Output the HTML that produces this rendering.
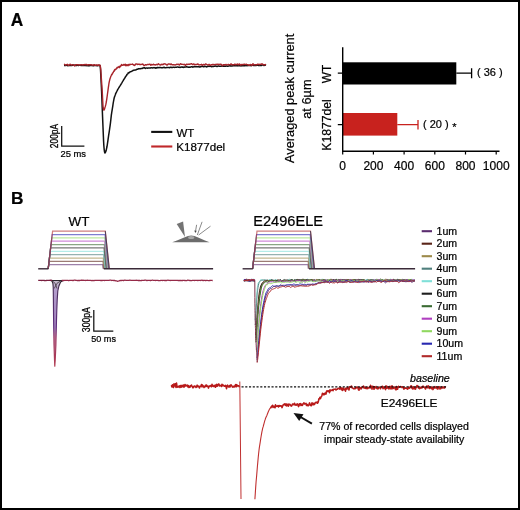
<!DOCTYPE html>
<html><head><meta charset="utf-8"><style>
html,body{margin:0;padding:0;background:#fff;}
#f{position:relative;width:520px;height:510px;box-sizing:border-box;border:2px solid #000;background:#fff;overflow:hidden;}
svg{position:absolute;left:-2px;top:-2px;will-change:transform;}
text{font-family:"Liberation Sans",sans-serif;stroke:#000;stroke-width:0.22px;paint-order:stroke;}

</style></head><body><div id="f">
<svg width="520" height="510" viewBox="0 0 520 510" font-family="Liberation Sans, sans-serif">
<text transform="translate(10.7,25.5) scale(1.0,1.06)" font-size="17.3" text-anchor="start" font-weight="bold" font-style="normal" fill="#000" >A</text>
<text transform="translate(10.9,204.3)" font-size="17.3" text-anchor="start" font-weight="bold" font-style="normal" fill="#000" >B</text>
<polyline points="64.0,65.5 64.5,65.5 65.0,65.5 65.5,65.4 66.0,65.3 66.5,65.3 67.0,65.4 67.5,65.7 68.0,65.6 68.5,65.4 69.0,65.5 69.5,65.6 70.0,65.6 70.5,65.4 71.0,65.4 71.5,65.6 72.0,65.4 72.5,65.3 73.0,65.2 73.5,65.1 74.0,65.1 74.5,65.2 75.0,65.3 75.5,65.4 76.0,65.6 76.5,65.5 77.0,65.2 77.5,65.1 78.0,65.4 78.5,65.5 79.0,65.3 79.5,65.3 80.0,65.3 80.5,65.3 81.0,65.5 81.5,65.5 82.0,65.4 82.5,65.6 83.0,65.6 83.5,65.4 84.0,65.5 84.5,65.5 85.0,65.4 85.5,65.4 86.0,65.7 86.5,65.5 87.0,65.4 87.5,65.7 88.0,65.5 88.5,65.7 89.0,65.9 89.5,65.5 90.0,65.4 90.5,65.6 91.0,65.6 91.5,65.6 92.0,65.6 92.5,65.6 93.0,65.8 93.5,65.7 94.0,65.5 94.5,65.5 95.0,65.5 95.5,65.4 96.0,65.4 96.5,65.5 97.0,65.7 97.5,65.8 98.0,65.6 98.5,65.3 99.0,65.6 99.5,65.6 100.0,65.5 100.2,66.3 100.4,68.4 100.6,71.4 100.8,75.1 101.0,79.0 101.2,83.1 101.4,87.0 101.6,91.5 101.8,96.5 102.0,101.8 102.2,107.2 102.4,112.5 102.6,117.4 102.8,122.4 103.0,127.3 103.2,132.0 103.4,136.8 103.6,141.4 103.8,145.0 104.0,147.5 104.2,149.6 104.4,151.0 104.6,152.1 104.8,152.9 105.0,152.9 105.2,152.7 105.4,152.3 105.6,151.9 105.8,151.5 106.0,150.9 106.2,150.3 106.4,149.4 106.6,148.4 106.8,147.5 107.0,146.5 107.2,145.3 107.4,144.0 107.6,142.7 107.8,141.3 108.0,139.8 108.2,138.4 108.4,137.1 108.6,135.7 108.8,134.4 109.0,133.1 109.2,131.8 109.4,130.5 109.6,129.1 109.8,127.7 110.0,126.3 110.2,124.8 110.4,123.3 110.6,121.7 110.8,120.0 111.0,118.1 111.2,116.4 111.4,114.7 111.6,113.3 111.8,112.0 112.0,110.8 112.2,109.6 112.4,108.4 112.6,107.2 112.8,105.9 113.0,104.5 113.2,103.2 113.4,102.0 113.6,100.8 113.8,99.8 114.0,98.8 114.2,98.0 114.4,97.3 114.6,96.6 114.8,96.1 115.0,95.5 115.2,95.0 115.4,94.4 115.6,93.9 115.8,93.4 116.0,93.0 116.2,92.6 116.4,92.2 116.6,91.8 116.8,91.3 117.0,90.9 117.2,90.6 117.4,90.2 117.6,89.8 117.8,89.4 118.0,89.1 118.2,88.7 118.4,88.4 118.6,88.1 118.8,87.7 119.0,87.4 119.2,87.2 119.4,86.8 119.6,86.5 119.8,86.2 120.0,85.9 120.2,85.6 120.4,85.3 120.6,84.9 120.8,84.6 121.0,84.3 121.2,84.0 121.4,83.6 121.6,83.3 121.8,82.9 122.0,82.6 122.2,82.2 122.4,81.9 122.6,81.5 122.8,81.2 123.0,80.9 123.2,80.6 123.4,80.2 123.6,79.8 123.8,79.5 124.0,79.3 124.2,78.9 124.4,78.6 124.6,78.3 124.8,78.0 125.0,77.8 125.2,77.3 125.4,77.0 125.6,76.6 125.8,76.2 126.0,76.1 126.2,75.8 126.4,75.7 126.6,75.5 126.8,74.8 127.0,74.2 127.2,74.2 127.4,74.1 127.6,73.8 127.8,73.8 128.0,73.4 128.2,72.9 128.4,73.0 128.6,73.1 128.8,72.9 129.0,72.8 129.2,72.6 129.4,72.2 129.6,72.2 129.8,72.1 130.0,71.8 130.5,71.7 131.0,71.7 131.5,71.4 132.0,71.1 132.5,70.8 133.0,70.5 133.5,70.3 134.0,70.3 134.5,70.1 135.0,69.9 135.5,69.9 136.0,69.9 136.5,69.5 137.0,69.3 137.5,69.3 138.0,69.0 138.5,68.8 139.0,68.6 139.5,68.8 140.0,68.8 140.5,68.7 141.0,68.6 141.5,68.6 142.0,68.6 142.5,68.2 143.0,68.0 143.5,68.0 144.0,67.6 144.5,67.8 145.0,68.3 145.5,68.4 146.0,68.0 146.5,67.9 147.0,68.1 147.5,68.2 148.0,68.1 148.5,68.0 149.0,68.0 149.5,68.1 150.0,68.1 150.5,68.0 151.0,67.8 151.5,67.8 152.0,67.8 152.5,67.9 153.0,67.8 153.5,67.6 154.0,67.8 154.5,67.6 155.0,67.8 155.5,68.2 156.0,67.9 156.5,67.8 157.0,67.9 157.5,67.4 158.0,67.4 158.5,67.7 159.0,67.7 159.5,67.5 160.0,67.5 160.5,67.6 161.0,67.7 161.5,67.8 162.0,67.6 162.5,67.8 163.0,67.7 163.5,67.4 164.0,67.3 164.5,67.5 165.0,67.8 165.5,67.7 166.0,67.7 166.5,67.6 167.0,67.5 167.5,67.5 168.0,67.4 168.5,67.4 169.0,67.6 169.5,67.7 170.0,67.5 170.5,67.3 171.0,67.2 171.5,67.5 172.0,67.6 172.5,67.4 173.0,67.3 173.5,67.2 174.0,67.2 174.5,67.4 175.0,67.4 175.5,67.2 176.0,67.2 176.5,67.3 177.0,67.1 177.5,67.0 178.0,67.1 178.5,67.2 179.0,67.2 179.5,67.2 180.0,67.5 180.5,67.3 181.0,67.1 181.5,67.1 182.0,67.2 182.5,67.0 183.0,67.1 183.5,67.4 184.0,67.3 184.5,67.0 185.0,66.9 185.5,67.0 186.0,66.9 186.5,66.7 187.0,67.0 187.5,67.1 188.0,67.0 188.5,67.3 189.0,67.2 189.5,67.1 190.0,67.3 190.5,67.1 191.0,66.8 191.5,66.7 192.0,66.7 192.5,67.1 193.0,67.2 193.5,66.9 194.0,66.6 194.5,66.7 195.0,66.8 195.5,66.8 196.0,66.8 196.5,66.8 197.0,66.8 197.5,66.7 198.0,66.8 198.5,66.7 199.0,66.8 199.5,67.0 200.0,67.0 200.5,66.8 201.0,66.5 201.5,66.5 202.0,66.4 202.5,66.2 203.0,66.5 203.5,66.8 204.0,66.7 204.5,66.3 205.0,66.3 205.5,66.4 206.0,66.5 206.5,66.9 207.0,66.8 207.5,66.4 208.0,66.2 208.5,66.3 209.0,66.4 209.5,66.3 210.0,66.3 210.5,66.3 211.0,66.4 211.5,66.7 212.0,66.7 212.5,66.4 213.0,66.4 213.5,66.4 214.0,66.3 214.5,66.2 215.0,66.1 215.5,66.0 216.0,66.2 216.5,66.4 217.0,66.3 217.5,66.4 218.0,66.2 218.5,65.9 219.0,66.1 219.5,66.3 220.0,66.2 220.5,66.3 221.0,66.3 221.5,66.0 222.0,65.9 222.5,66.1 223.0,66.3 223.5,65.9 224.0,66.0 224.5,66.3 225.0,66.3 225.5,66.2 226.0,66.0 226.5,65.9 227.0,66.2 227.5,66.3 228.0,66.2 228.5,66.1 229.0,65.9 229.5,65.8 230.0,65.7 230.5,66.0 231.0,65.9 231.5,65.9 232.0,66.1 232.5,65.8 233.0,65.7 233.5,65.8 234.0,65.8 234.5,65.8 235.0,65.7 235.5,65.7 236.0,65.7 236.5,65.6 237.0,65.7 237.5,65.9 238.0,65.7 238.5,65.6 239.0,65.7 239.5,65.6 240.0,65.8 240.5,65.8 241.0,65.9 241.5,65.8 242.0,65.7 242.5,65.7 243.0,65.6 243.5,65.7 244.0,65.8 244.5,65.7 245.0,65.7 245.5,65.5 246.0,65.5 246.5,65.6 247.0,65.8 247.5,65.6 248.0,65.5 248.5,65.4 249.0,65.5 249.5,65.5 250.0,65.2 250.5,65.3 251.0,65.7 251.5,65.5 252.0,65.2 252.5,65.3 253.0,65.3 253.5,65.4 254.0,65.5 254.5,65.3 255.0,65.5 255.5,65.5 256.0,65.4 256.5,65.4 257.0,65.2 257.5,65.1 258.0,65.4 258.5,65.6 259.0,65.4 259.5,65.4 260.0,65.4 260.5,65.4 261.0,65.6 261.5,65.5 262.0,65.0 262.5,65.0 263.0,65.1 263.5,65.3 264.0,65.5 264.5,65.3 265.0,65.0 265.5,65.1 266.0,65.4" fill="none" stroke="#111" stroke-width="1.5" stroke-linejoin="round" />
<polyline points="64.0,64.2 64.5,64.4 65.0,64.8 65.5,65.0 66.0,65.0 66.5,64.6 67.0,64.5 67.5,64.3 68.0,65.1 68.5,65.6 69.0,65.1 69.5,64.7 70.0,64.2 70.5,64.4 71.0,64.9 71.5,65.0 72.0,65.0 72.5,64.7 73.0,64.7 73.5,65.0 74.0,65.3 74.5,65.9 75.0,65.5 75.5,64.8 76.0,64.8 76.5,64.8 77.0,64.6 77.5,64.8 78.0,64.7 78.5,64.9 79.0,65.1 79.5,65.0 80.0,65.0 80.5,64.8 81.0,64.6 81.5,64.7 82.0,64.8 82.5,64.9 83.0,65.1 83.5,64.6 84.0,64.7 84.5,64.7 85.0,64.5 85.5,64.8 86.0,64.4 86.5,64.5 87.0,65.1 87.5,65.0 88.0,64.9 88.5,64.8 89.0,64.7 89.5,64.7 90.0,64.8 90.5,64.9 91.0,64.7 91.5,64.8 92.0,65.2 92.5,65.1 93.0,64.9 93.5,65.1 94.0,64.8 94.5,64.7 95.0,65.3 95.5,65.2 96.0,65.3 96.5,65.0 97.0,64.8 97.5,65.2 98.0,65.4 98.5,65.3 99.0,64.7 99.5,65.1 100.0,65.1 100.2,65.6 100.4,66.6 100.6,68.0 100.8,70.1 101.0,73.2 101.2,76.1 101.4,79.0 101.6,81.8 101.8,84.7 102.0,87.7 102.2,90.8 102.4,94.2 102.6,98.2 102.8,102.5 103.0,106.0 103.2,108.0 103.4,109.0 103.6,109.7 103.8,110.1 104.0,110.1 104.2,109.8 104.4,109.3 104.6,108.7 104.8,108.0 105.0,107.4 105.2,106.8 105.4,106.1 105.6,105.3 105.8,104.5 106.0,103.6 106.2,102.6 106.4,101.5 106.6,100.1 106.8,98.8 107.0,97.4 107.2,96.0 107.4,94.5 107.6,93.0 107.8,91.7 108.0,90.2 108.2,88.7 108.4,87.2 108.6,85.8 108.8,84.5 109.0,83.2 109.2,82.1 109.4,81.2 109.6,80.3 109.8,79.5 110.0,78.8 110.2,78.2 110.4,77.6 110.6,77.0 110.8,76.5 111.0,76.0 111.2,75.6 111.4,75.1 111.6,74.7 111.8,74.4 112.0,74.7 112.2,74.1 112.4,73.2 112.6,73.0 112.8,73.1 113.0,72.7 113.2,72.5 113.4,71.9 113.6,71.2 113.8,71.2 114.0,71.2 114.2,71.3 114.4,70.4 114.6,69.7 114.8,70.0 115.0,69.8 115.2,69.1 115.4,69.4 115.6,69.7 115.8,69.4 116.0,68.9 116.2,68.9 116.4,68.7 116.6,68.6 116.8,68.2 117.0,67.5 117.2,67.7 117.4,67.6 117.6,67.6 117.8,67.7 118.0,67.1 118.2,66.9 118.4,67.0 118.6,67.1 118.8,66.9 119.0,66.4 119.2,66.8 119.4,67.5 119.6,67.6 119.8,66.9 120.0,66.3 120.2,66.6 120.4,66.4 120.6,65.6 120.8,65.6 121.0,65.9 121.2,65.5 121.4,64.8 121.6,64.6 121.8,65.2 122.0,65.3 122.2,65.0 122.4,65.2 122.6,65.3 122.8,65.1 123.0,65.1 123.2,64.9 123.4,64.6 123.6,64.5 123.8,64.9 124.0,65.2 124.2,64.7 124.4,64.6 124.6,64.7 124.8,65.0 125.0,64.6 125.2,64.1 125.4,64.5 125.6,65.4 125.8,65.8 126.0,65.1 126.2,65.0 126.4,65.6 126.6,65.3 126.8,64.6 127.0,65.0 127.2,65.3 127.4,65.1 127.6,64.8 127.8,65.2 128.0,65.8 128.2,65.4 128.4,65.1 128.6,64.4 128.8,64.4 129.0,64.9 129.2,64.8 129.4,65.0 129.6,64.8 129.8,64.2 130.0,64.3 130.5,64.6 131.0,64.4 131.5,64.4 132.0,64.4 132.5,63.9 133.0,64.4 133.5,65.1 134.0,65.0 134.5,65.5 135.0,65.2 135.5,64.1 136.0,63.9 136.5,64.0 137.0,64.1 137.5,64.5 138.0,64.1 138.5,64.1 139.0,64.3 139.5,64.3 140.0,64.7 140.5,64.5 141.0,64.5 141.5,64.4 142.0,64.3 142.5,64.0 143.0,64.1 143.5,65.1 144.0,65.6 144.5,65.5 145.0,65.1 145.5,64.6 146.0,64.8 146.5,65.0 147.0,64.6 147.5,64.5 148.0,64.5 148.5,64.5 149.0,64.4 149.5,64.3 150.0,64.2 150.5,65.1 151.0,65.2 151.5,64.5 152.0,64.7 152.5,64.9 153.0,64.5 153.5,64.2 154.0,64.8 154.5,64.9 155.0,64.7 155.5,65.0 156.0,64.8 156.5,64.4 157.0,64.4 157.5,64.8 158.0,64.4 158.5,63.8 159.0,64.2 159.5,64.6 160.0,64.9 160.5,65.1 161.0,64.5 161.5,64.3 162.0,64.7 162.5,64.3 163.0,64.5 163.5,64.5 164.0,63.7 164.5,63.9 165.0,64.0 165.5,64.0 166.0,64.5 166.5,64.7 167.0,65.1 167.5,64.9 168.0,64.1 168.5,63.9 169.0,64.1 169.5,64.0 170.0,64.3 170.5,64.5 171.0,63.8 171.5,64.2 172.0,64.7 172.5,64.6 173.0,64.7 173.5,64.7 174.0,64.7 174.5,64.9 175.0,65.0 175.5,64.8 176.0,64.8 176.5,64.3 177.0,64.1 177.5,64.4 178.0,64.5 178.5,64.2 179.0,64.6 179.5,65.0 180.0,64.2 180.5,63.7 181.0,64.0 181.5,64.4 182.0,64.3 182.5,64.4 183.0,64.4 183.5,64.5 184.0,64.5 184.5,64.3 185.0,64.8 185.5,65.5 186.0,65.0 186.5,64.1 187.0,64.2 187.5,64.5 188.0,64.4 188.5,64.1 189.0,64.4 189.5,64.3 190.0,64.0 190.5,64.1 191.0,63.8 191.5,63.6 192.0,64.0 192.5,64.5 193.0,64.5 193.5,64.0 194.0,63.9 194.5,64.6 195.0,64.9 195.5,64.7 196.0,64.3 196.5,64.5 197.0,64.5 197.5,64.0 198.0,64.0 198.5,64.7 199.0,65.0 199.5,64.9 200.0,64.7 200.5,64.6 201.0,64.6 201.5,64.3 202.0,65.2 202.5,65.4 203.0,64.6 203.5,64.4 204.0,64.6 204.5,64.9 205.0,64.7 205.5,63.9 206.0,64.0 206.5,64.4 207.0,64.6 207.5,64.9 208.0,65.0 208.5,64.8 209.0,64.4 209.5,64.5 210.0,65.3 210.5,65.3 211.0,64.8 211.5,64.6 212.0,65.0 212.5,64.7 213.0,64.2 213.5,64.6 214.0,64.8 214.5,64.6 215.0,64.5 215.5,64.5 216.0,64.5 216.5,64.5 217.0,64.2 217.5,64.2 218.0,64.7 218.5,64.5 219.0,64.2 219.5,64.6 220.0,64.4 220.5,64.3 221.0,64.3 221.5,64.5 222.0,65.5 222.5,65.7 223.0,65.0 223.5,64.7 224.0,64.7 224.5,64.6 225.0,65.0 225.5,64.6 226.0,64.4 226.5,64.8 227.0,64.9 227.5,64.9 228.0,64.4 228.5,64.4 229.0,64.8 229.5,64.7 230.0,64.6 230.5,64.5 231.0,63.8 231.5,64.2 232.0,64.9 232.5,64.7 233.0,64.6 233.5,64.8 234.0,64.7 234.5,64.2 235.0,64.3 235.5,64.8 236.0,64.4 236.5,64.4 237.0,64.7 237.5,64.0 238.0,64.5 238.5,64.8 239.0,64.1 239.5,64.0 240.0,64.7 240.5,65.1 241.0,64.7 241.5,64.5 242.0,64.8 242.5,64.5 243.0,64.4 243.5,64.6 244.0,64.3 244.5,64.2 245.0,64.4 245.5,64.5 246.0,64.4 246.5,64.2 247.0,64.7 247.5,64.9 248.0,64.8 248.5,65.1 249.0,65.0 249.5,65.3 250.0,64.9 250.5,64.5 251.0,64.6 251.5,64.9 252.0,65.5 252.5,64.4 253.0,63.7 253.5,64.4 254.0,64.9 254.5,64.9 255.0,64.7 255.5,64.6 256.0,64.8 256.5,64.7 257.0,64.8 257.5,64.2 258.0,64.1 258.5,64.4 259.0,64.5 259.5,64.7 260.0,64.2 260.5,64.4 261.0,64.4 261.5,64.0 262.0,63.8 262.5,64.1 263.0,64.6 263.5,64.9 264.0,64.7 264.5,64.7 265.0,64.8 265.5,64.5 266.0,64.6" fill="none" stroke="#a8242a" stroke-width="1.4" stroke-linejoin="round" />
<path d="M61.7,126 V146.2 H84.4" fill="none" stroke="#111" stroke-width="1.25"/>
<text transform="translate(60.5,157.3) scale(1.0,1.06)" font-size="9.4" text-anchor="start" font-weight="normal" font-style="normal" fill="#000" >25 ms</text>
<text transform="translate(57.5,148.2) rotate(-90) scale(1.0,1.3)" font-size="8.4" text-anchor="start" font-weight="normal" font-style="normal" fill="#000" >200pA</text>
<line x1="151.2" y1="131.9" x2="172.3" y2="131.9" stroke="#111" stroke-width="2.1"/>
<line x1="151.2" y1="146.5" x2="172.3" y2="146.5" stroke="#c0282a" stroke-width="2.1"/>
<text transform="translate(176.6,136.6)" font-size="11.4" text-anchor="start" font-weight="normal" font-style="normal" fill="#000" >WT</text>
<text transform="translate(176.2,151)" font-size="11.6" text-anchor="start" font-weight="normal" font-style="normal" fill="#000" >K1877del</text>
<rect x="342.7" y="62.3" width="113.6" height="22.2" fill="#000"/>
<rect x="342.7" y="113" width="54.6" height="22.6" fill="#c8221e"/>
<path d="M456.3,73.2 H471.6 M471.6,68.2 V78.3" stroke="#000" stroke-width="1.3" fill="none"/>
<path d="M397.3,124.7 H418 M418,120 V129.6" stroke="#c8221e" stroke-width="1.3" fill="none"/>
<path d="M342.7,47.3 V151.2 H499.5" stroke="#000" stroke-width="1.4" fill="none"/>
<path d="M342.7,151.2 V154.6 M373.4,151.2 V154.6 M404.1,151.2 V154.6 M434.8,151.2 V154.6 M465.5,151.2 V154.6 M496.2,151.2 V154.6  M337.8,73.2 H342.7 M337.8,124.7 H342.7" stroke="#000" stroke-width="1.2" fill="none"/>
<text transform="translate(342.7,170)" font-size="12" text-anchor="middle" font-weight="normal" font-style="normal" fill="#000" >0</text>
<text transform="translate(373.4,170)" font-size="12" text-anchor="middle" font-weight="normal" font-style="normal" fill="#000" >200</text>
<text transform="translate(404.1,170)" font-size="12" text-anchor="middle" font-weight="normal" font-style="normal" fill="#000" >400</text>
<text transform="translate(434.8,170)" font-size="12" text-anchor="middle" font-weight="normal" font-style="normal" fill="#000" >600</text>
<text transform="translate(465.5,170)" font-size="12" text-anchor="middle" font-weight="normal" font-style="normal" fill="#000" >800</text>
<text transform="translate(496.2,170)" font-size="12" text-anchor="middle" font-weight="normal" font-style="normal" fill="#000" >1000</text>
<text transform="translate(477,75.8)" font-size="11" text-anchor="start" font-weight="normal" font-style="normal" fill="#000" >( 36 )</text>
<text transform="translate(423,127.5)" font-size="11" text-anchor="start" font-weight="normal" font-style="normal" fill="#000" >( 20 )</text>
<text transform="translate(452.2,130.5)" font-size="11" text-anchor="start" font-weight="normal" font-style="normal" fill="#000" >*</text>
<text transform="translate(294,163) rotate(-90)" font-size="12.8" text-anchor="start" font-weight="normal" font-style="normal" fill="#000" >Averaged peak current</text>
<text transform="translate(311.3,118.8) rotate(-90)" font-size="12.8" text-anchor="start" font-weight="normal" font-style="normal" fill="#000" >at 6µm</text>
<text transform="translate(330.6,74) rotate(-90)" font-size="11.9" text-anchor="middle" font-weight="normal" font-style="normal" fill="#000" >WT</text>
<text transform="translate(330.8,125) rotate(-90)" font-size="12.2" text-anchor="middle" font-weight="normal" font-style="normal" fill="#000" >K1877del</text>
<polyline points="48.2,268.8 48.7,264.7 102.7,264.7 103.1,268.8" fill="none" stroke="#5b2c6f" stroke-width="1.25" opacity="0.6"/>
<polyline points="48.2,268.8 49.1,261.3 103.0,261.3 103.7,268.8" fill="none" stroke="#5a2418" stroke-width="1.25" opacity="0.6"/>
<polyline points="48.2,268.8 49.5,258.0 103.2,258.0 104.4,268.8" fill="none" stroke="#9c8a4a" stroke-width="1.25" opacity="0.6"/>
<polyline points="48.2,268.8 49.9,254.6 103.5,254.6 105.0,268.8" fill="none" stroke="#4f7f7d" stroke-width="1.25" opacity="0.6"/>
<polyline points="48.2,268.8 50.3,251.3 103.7,251.3 105.6,268.8" fill="none" stroke="#80e0d8" stroke-width="1.25" opacity="0.6"/>
<polyline points="48.2,268.8 50.6,247.9 104.0,247.9 106.2,268.8" fill="none" stroke="#1e1e1e" stroke-width="1.25" opacity="0.6"/>
<polyline points="48.2,268.8 51.0,244.5 104.3,244.5 106.8,268.8" fill="none" stroke="#3a6b32" stroke-width="1.25" opacity="0.6"/>
<polyline points="48.2,268.8 51.4,241.2 104.5,241.2 107.4,268.8" fill="none" stroke="#b040c0" stroke-width="1.25" opacity="0.6"/>
<polyline points="48.2,268.8 51.8,237.8 104.8,237.8 108.0,268.8" fill="none" stroke="#90d860" stroke-width="1.25" opacity="0.6"/>
<polyline points="48.2,268.8 52.2,234.5 105.0,234.5 108.6,268.8" fill="none" stroke="#2828b0" stroke-width="1.25" opacity="0.6"/>
<polyline points="48.2,268.8 52.6,231.1 105.3,231.1 109.3,268.8" fill="none" stroke="#b02a2a" stroke-width="1.25" opacity="0.6"/>
<line x1="105.3" y1="231.1" x2="109.3" y2="268.8" stroke="#30304a" stroke-width="1.0" opacity="0.8"/>
<line x1="38.2" y1="268.8" x2="48.4" y2="268.8" stroke="#3a2a38" stroke-width="1.4"/>
<line x1="103.8" y1="268.8" x2="213.1" y2="268.8" stroke="#3a2a38" stroke-width="1.4"/>
<polyline points="252.6,268.8 253.1,264.7 307.9,264.7 308.3,268.8" fill="none" stroke="#5b2c6f" stroke-width="1.25" opacity="0.6"/>
<polyline points="252.6,268.8 253.5,261.3 308.2,261.3 308.9,268.8" fill="none" stroke="#5a2418" stroke-width="1.25" opacity="0.6"/>
<polyline points="252.6,268.8 253.9,258.0 308.4,258.0 309.6,268.8" fill="none" stroke="#9c8a4a" stroke-width="1.25" opacity="0.6"/>
<polyline points="252.6,268.8 254.3,254.6 308.7,254.6 310.2,268.8" fill="none" stroke="#4f7f7d" stroke-width="1.25" opacity="0.6"/>
<polyline points="252.6,268.8 254.7,251.3 308.9,251.3 310.8,268.8" fill="none" stroke="#80e0d8" stroke-width="1.25" opacity="0.6"/>
<polyline points="252.6,268.8 255.0,247.9 309.2,247.9 311.4,268.8" fill="none" stroke="#1e1e1e" stroke-width="1.25" opacity="0.6"/>
<polyline points="252.6,268.8 255.4,244.5 309.5,244.5 312.0,268.8" fill="none" stroke="#3a6b32" stroke-width="1.25" opacity="0.6"/>
<polyline points="252.6,268.8 255.8,241.2 309.7,241.2 312.6,268.8" fill="none" stroke="#b040c0" stroke-width="1.25" opacity="0.6"/>
<polyline points="252.6,268.8 256.2,237.8 310.0,237.8 313.2,268.8" fill="none" stroke="#90d860" stroke-width="1.25" opacity="0.6"/>
<polyline points="252.6,268.8 256.6,234.5 310.2,234.5 313.8,268.8" fill="none" stroke="#2828b0" stroke-width="1.25" opacity="0.6"/>
<polyline points="252.6,268.8 257.0,231.1 310.5,231.1 314.5,268.8" fill="none" stroke="#b02a2a" stroke-width="1.25" opacity="0.6"/>
<line x1="310.5" y1="231.1" x2="314.5" y2="268.8" stroke="#30304a" stroke-width="1.0" opacity="0.8"/>
<line x1="242.6" y1="268.8" x2="252.8" y2="268.8" stroke="#3a2a38" stroke-width="1.4"/>
<line x1="309.0" y1="268.8" x2="415.1" y2="268.8" stroke="#3a2a38" stroke-width="1.4"/>
<defs><linearGradient id="wtg" x1="0" y1="280" x2="0" y2="366" gradientUnits="userSpaceOnUse"><stop offset="0" stop-color="#c8c0cc"/><stop offset="0.12" stop-color="#b39ccc"/><stop offset="0.55" stop-color="#a080bc"/><stop offset="0.66" stop-color="#c07a98"/><stop offset="1" stop-color="#c85a6c"/></linearGradient><linearGradient id="wts" x1="0" y1="280" x2="0" y2="366" gradientUnits="userSpaceOnUse"><stop offset="0" stop-color="#2a2428"/><stop offset="0.1" stop-color="#4a2e5a"/><stop offset="0.55" stop-color="#5e2e7e"/><stop offset="0.68" stop-color="#9a3a66"/><stop offset="1" stop-color="#b03a50"/></linearGradient></defs>
<polygon points="50.80,280.50 52.10,281.30 52.90,283.50 53.20,287.00 53.30,292.00 53.40,300.00 53.60,320.00 54.00,345.00 54.50,360.00 54.80,366.20 55.20,360.00 55.60,352.00 55.90,345.00 56.50,320.00 56.80,310.00 57.20,300.00 57.80,291.00 58.90,286.00 60.60,282.00 63.20,280.50" fill="url(#wtg)" stroke="url(#wts)" stroke-width="1.15" stroke-linejoin="round"/>
<path d="M52.5,281 Q55.6,282 57.0,288.5 M60.4,281 Q56.6,282 54.2,288.5" fill="none" stroke="#3a3038" stroke-width="0.9" opacity="0.85"/>
<polyline points="61.7,280.4 62.2,280.4 62.7,280.5 63.2,280.4 63.7,280.6 64.2,280.4 64.7,280.4 65.2,280.3 65.7,280.4 66.2,280.4 66.7,280.3 67.2,280.3 67.7,280.3 68.2,280.5 68.7,280.6 69.2,280.5 69.7,280.3 70.2,280.3 70.7,280.4 71.2,280.4 71.7,280.4 72.2,280.4 72.7,280.5 73.2,280.5 73.7,280.4 74.2,280.2 74.7,280.2 75.2,280.1 75.7,280.3 76.2,280.3 76.7,280.4 77.2,280.5 77.7,280.6 78.2,280.5 78.7,280.5 79.2,280.5 79.7,280.5 80.2,280.4 80.7,280.3 81.2,280.2 81.7,280.4 82.2,280.2 82.7,280.3 83.2,280.2 83.7,280.3 84.2,280.4 84.7,280.4 85.2,280.4 85.7,280.5 86.2,280.3 86.7,280.3 87.2,280.2 87.7,280.4 88.2,280.4 88.7,280.4 89.2,280.3 89.7,280.4 90.2,280.4 90.7,280.4 91.2,280.5 91.7,280.6 92.2,280.6 92.7,280.5 93.2,280.5 93.7,280.6 94.2,280.6 94.7,280.4 95.2,280.4 95.7,280.3 96.2,280.3 96.7,280.4 97.2,280.4 97.7,280.4 98.2,280.3 98.7,280.3 99.2,280.3 99.7,280.3 100.2,280.4 100.7,280.5 101.2,280.5 101.7,280.5 102.2,280.5 102.7,280.4 103.2,280.4 103.7,280.4 104.2,280.4 104.7,280.5 105.2,280.4 105.7,280.4 106.2,280.3 106.7,280.3 107.2,280.3 107.7,280.3 108.2,280.4 108.7,280.4 109.2,280.3 109.7,280.2 110.2,280.1 110.7,280.2 111.2,280.3 111.7,280.5 112.2,280.4 112.7,280.3 113.2,280.4 113.7,280.5 114.2,280.5 114.7,280.5 115.2,280.6 115.7,280.8 116.2,280.8 116.7,280.9 117.2,281.1 117.7,281.3 118.2,281.2 118.7,281.0 119.2,280.8 119.7,280.6 120.2,280.4 120.7,280.6 121.2,280.5 121.7,280.5 122.2,280.3 122.7,280.4 123.2,280.5 123.7,280.5 124.2,280.4 124.7,280.2 125.2,280.2 125.7,280.3 126.2,280.4 126.7,280.4 127.2,280.3 127.7,280.3 128.2,280.4 128.7,280.4 129.2,280.4 129.7,280.2 130.2,280.2 130.7,280.3 131.2,280.3 131.7,280.3 132.2,280.3 132.7,280.4 133.2,280.3 133.7,280.3 134.2,280.3 134.7,280.4 135.2,280.3 135.7,280.3 136.2,280.2 136.7,280.3 137.2,280.3 137.7,280.4 138.2,280.5 138.7,280.5 139.2,280.5 139.7,280.5 140.2,280.6 140.7,280.6 141.2,280.5 141.7,280.5 142.2,280.4 142.7,280.4 143.2,280.4 143.7,280.3 144.2,280.4 144.7,280.2 145.2,280.2 145.7,280.2 146.2,280.4 146.7,280.5 147.2,280.5 147.7,280.4 148.2,280.3 148.7,280.4 149.2,280.4 149.7,280.4 150.2,280.5 150.7,280.5 151.2,280.4 151.7,280.3 152.2,280.2 152.7,280.2 153.2,280.3 153.7,280.4 154.2,280.4 154.7,280.4 155.2,280.4 155.7,280.5 156.2,280.4 156.7,280.3 157.2,280.4 157.7,280.4 158.2,280.5 158.7,280.6 159.2,280.6 159.7,280.6 160.2,280.6 160.7,280.4 161.2,280.3 161.7,280.3 162.2,280.4 162.7,280.5 163.2,280.4 163.7,280.4 164.2,280.4 164.7,280.5 165.2,280.5 165.7,280.5 166.2,280.5 166.7,280.5 167.2,280.3 167.7,280.2 168.2,280.2 168.7,280.3 169.2,280.3 169.7,280.4 170.2,280.5 170.7,280.4 171.2,280.4 171.7,280.4 172.2,280.4 172.7,280.3 173.2,280.4 173.7,280.4 174.2,280.4 174.7,280.4 175.2,280.4 175.7,280.3 176.2,280.4 176.7,280.4 177.2,280.4 177.7,280.4 178.2,280.6 178.7,280.5 179.2,280.6 179.7,280.4 180.2,280.5 180.7,280.4 181.2,280.5 181.7,280.6 182.2,280.5 182.7,280.5 183.2,280.4 183.7,280.4 184.2,280.4 184.7,280.5 185.2,280.5 185.7,280.6 186.2,280.6 186.7,280.6 187.2,280.4 187.7,280.2 188.2,280.2 188.7,280.3 189.2,280.4 189.7,280.5 190.2,280.5 190.7,280.6 191.2,280.6 191.7,280.6 192.2,280.4 192.7,280.4 193.2,280.4 193.7,280.4 194.2,280.4 194.7,280.5 195.2,280.4 195.7,280.4 196.2,280.3 196.7,280.4 197.2,280.4 197.7,280.5 198.2,280.5 198.7,280.3 199.2,280.4 199.7,280.3 200.2,280.5 200.7,280.4 201.2,280.3 201.7,280.2 202.2,280.2 202.7,280.5 203.2,280.5 203.7,280.5 204.2,280.3 204.7,280.4 205.2,280.5 205.7,280.6 206.2,280.5 206.7,280.3 207.2,280.3 207.7,280.5 208.2,280.7 208.7,280.7 209.2,280.6 209.7,280.4 210.2,280.5 210.7,280.3 211.2,280.4 211.7,280.3 212.2,280.5 212.7,280.5" fill="none" stroke="#952a48" stroke-width="1.3" stroke-linejoin="round" />
<polyline points="38.2,280.4 38.7,280.4 39.2,280.4 39.7,280.4 40.2,280.3 40.7,280.4 41.2,280.4 41.7,280.5 42.2,280.4 42.7,280.4 43.2,280.4 43.7,280.4 44.2,280.5 44.7,280.5 45.2,280.7 45.7,280.6 46.2,280.5 46.7,280.4 47.2,280.4 47.7,280.4 48.2,280.4 48.7,280.4 49.2,280.3 49.7,280.3 50.2,280.1 50.7,280.3 51.2,280.2 51.7,280.3 52.2,280.3" fill="none" stroke="#7a2040" stroke-width="1.3" stroke-linejoin="round" />
<polyline points="243.9,279.8 244.3,279.7 244.7,279.7 245.1,279.6 245.5,279.7 245.9,279.9 246.3,280.1 246.7,280.2 247.1,280.1 247.5,279.9 247.9,279.8 248.3,279.7 248.7,279.6 249.1,279.5 249.5,279.6 249.9,279.6 250.3,279.6 250.7,279.7 251.1,279.8 251.5,279.9 251.9,279.9 252.3,279.6 252.7,279.4 253.1,279.3 253.5,279.4 253.9,279.4 254.3,279.5 254.4,279.5 254.5,279.5 254.5,279.5 254.6,279.5 254.6,279.5 254.7,279.5 254.7,279.5 254.8,279.5" fill="none" stroke="#80e0d8" stroke-width="1.1" stroke-linejoin="round" />
<polyline points="255.2,318.1 255.2,320.1 255.3,319.6 255.3,318.8 255.4,317.9 255.4,317.0 255.5,316.0 255.5,315.0 255.6,313.9 255.6,312.8 255.7,311.8 255.7,310.7 255.8,309.7 255.8,308.6 255.9,307.6 255.9,306.6 256.0,305.6 256.0,304.6 256.1,303.7 256.1,302.7 256.2,301.8 256.2,300.9 256.3,300.1 256.3,299.3 256.4,298.4 256.4,297.7 256.5,296.9 256.5,296.2 256.6,295.5 256.6,294.8 256.7,294.2 256.7,293.5 256.8,293.0 256.8,292.4 256.9,291.8 256.9,291.3 257.0,290.8 257.0,290.3 257.1,289.8 257.1,289.3 257.2,288.9 257.2,288.4 257.3,288.0 257.3,287.6 257.4,287.3 257.4,286.9 257.5,286.6 257.5,286.3 257.6,286.0 257.6,285.7 257.7,285.4 257.7,285.1 257.8,284.9 257.8,284.6 257.9,284.4 257.9,284.2 258.0,284.0 258.0,283.8 258.4,282.6 258.8,282.1 259.2,281.8 259.6,281.5 260.0,280.8 260.4,280.2 260.8,279.5 261.2,279.6 261.6,279.7 262.0,279.8 262.4,280.1 262.8,280.3 263.2,280.5 263.6,280.6 264.0,280.4 264.4,280.2 264.8,280.1 265.2,280.1 265.6,280.1 266.0,280.0 266.4,280.3 266.8,280.7 267.2,281.0 267.6,280.8 268.0,280.5 268.4,280.2 268.8,280.0 269.2,279.8 269.6,279.7 270.0,279.6 270.4,279.6 270.8,279.6 271.2,279.5 271.6,279.8 272.0,280.1 272.4,280.3 272.8,280.4 273.2,280.4 273.6,280.4 274.0,280.2 274.4,280.0 274.8,279.7 275.2,279.5 275.6,279.6 276.0,279.6 276.4,279.7 276.8,279.9 277.2,280.2 277.6,280.4 278.0,280.5 278.4,280.5 278.8,280.5 279.2,280.4 279.6,280.2 280.0,280.0 280.4,279.9 280.8,280.1 281.2,280.3 281.6,280.5 282.0,280.5 282.4,280.5 282.8,280.5 283.2,280.2 283.6,279.9 284.0,279.5 284.4,279.4 284.8,279.6 285.2,279.9 285.6,280.1 286.0,280.2 286.4,280.3 286.8,280.4 287.2,280.3 287.6,280.1 288.0,280.0 288.4,279.7 288.8,279.5 289.2,279.3 289.6,279.3 290.0,279.6 290.4,279.8 290.8,280.1 291.2,280.3 291.6,280.4 292.0,280.6 292.4,280.7 292.8,280.8 293.2,281.0 293.6,280.6 294.0,280.0 294.4,279.4 294.8,279.5 295.2,280.2 295.6,281.0 296.0,281.4 296.4,280.8 296.8,280.2 297.2,279.6 297.6,280.0 298.0,280.3 298.4,280.6 298.8,280.7 299.2,280.8 299.6,280.8 300.0,280.8 300.4,280.8 300.8,280.7 301.2,280.7 301.6,280.5 302.0,280.4 302.4,280.3 302.8,280.1 303.2,279.9 303.6,279.7 304.0,279.8 304.4,280.1 304.8,280.4 305.2,280.4 305.6,280.2 306.0,280.0 306.4,279.8 306.8,279.5 307.2,279.2 307.6,278.9 308.0,279.8 308.4,280.6 308.8,281.4 309.2,281.4 309.6,281.0 310.0,280.7 310.4,280.6 310.8,280.8 311.2,281.0 311.6,281.0 312.0,280.6 312.4,280.2 312.8,279.7 313.2,280.1 313.6,280.5 314.0,280.8 314.4,280.9 314.8,281.0 315.2,281.0 315.6,281.0 316.0,281.0 316.4,281.0 316.8,280.9 317.2,280.7 317.6,280.4 318.0,280.2 318.4,280.0 318.8,279.8 319.2,279.6 319.6,279.7 320.0,279.9 320.4,280.0 320.8,280.0 321.2,279.6 321.6,279.3 322.0,279.1 322.4,279.2 322.8,279.3 323.2,279.3 323.6,279.6 324.0,279.9 324.4,280.2 324.8,280.1 325.2,280.0 325.6,279.8 326.0,279.8 326.4,279.9 326.8,280.0 327.2,280.1 327.6,280.1 328.0,280.1 328.4,280.1 328.8,280.5 329.2,280.8 329.6,281.1 330.0,281.1 330.4,281.0 330.8,280.9 331.2,280.7 331.6,280.5 332.0,280.3 332.4,280.2 332.8,280.4 333.2,280.6 333.6,280.8 334.0,280.5 334.4,280.2 334.8,279.9 335.2,279.9 335.6,279.9 336.0,280.0 336.4,280.1 336.8,280.3 337.2,280.5 337.6,280.6 338.0,280.2 338.4,279.9 338.8,279.6 339.2,279.7 339.6,279.9 340.0,280.0 340.4,279.9 340.8,279.8 341.2,279.6 341.6,279.7 342.0,279.9 342.4,280.1 342.8,280.3 343.2,280.6 343.6,280.8 344.0,281.0 344.4,280.6 344.8,280.3 345.2,279.9 345.6,279.9 346.0,280.1 346.4,280.2 346.8,280.2 347.2,280.1 347.6,279.9 348.0,279.7 348.4,279.7 348.8,279.7 349.2,279.6 349.6,279.6 350.0,279.6 350.4,279.6 350.8,279.9 351.2,280.3 351.6,280.7 352.0,281.0 352.4,281.1 352.8,281.3 353.2,281.3 353.6,281.0 354.0,280.7 354.4,280.4 354.8,280.3 355.2,280.1 355.6,279.9 356.0,280.0 356.4,280.2 356.8,280.4 357.2,280.5 357.6,280.3 358.0,280.2 358.4,280.1 358.8,280.3 359.2,280.4 359.6,280.6 360.0,280.5 360.4,280.4 360.8,280.4 361.2,280.3 361.6,280.3 362.0,280.3 362.4,280.4 362.8,280.4 363.2,280.5 363.6,280.5 364.0,280.3 364.4,280.1 364.8,279.9 365.2,279.9 365.6,280.0 366.0,280.0 366.4,279.8 366.8,279.6 367.2,279.4 367.6,279.4 368.0,279.6 368.4,279.8 368.8,279.9 369.2,279.8 369.6,279.6 370.0,279.5 370.4,279.7 370.8,279.9 371.2,280.1 371.6,280.0 372.0,279.9 372.4,279.8 372.8,279.8 373.2,280.0 373.6,280.1 374.0,280.3 374.4,280.3 374.8,280.4 375.2,280.4 375.6,280.1 376.0,279.9 376.4,279.6 376.8,279.6 377.2,279.7 377.6,279.7 378.0,279.8 378.4,279.8 378.8,279.7 379.2,279.8 379.6,280.1 380.0,280.3 380.4,280.6 380.8,280.7 381.2,280.9 381.6,281.0 382.0,281.0 382.4,280.8 382.8,280.7 383.2,280.5 383.6,280.3 384.0,280.2 384.4,280.1 384.8,280.4 385.2,280.7 385.6,280.9 386.0,280.5 386.4,280.0 386.8,279.6 387.2,279.8 387.6,280.3 388.0,280.7 388.4,280.8 388.8,280.5 389.2,280.1 389.6,279.8 390.0,279.5 390.4,279.1 390.8,278.8 391.2,279.6 391.6,280.5 392.0,281.3 392.4,281.4 392.8,281.2 393.2,281.1 393.6,280.8 394.0,280.4 394.4,280.0 394.8,279.7 395.2,279.9 395.6,280.1 396.0,280.3 396.4,280.2 396.8,280.2 397.2,280.1 397.6,280.1 398.0,280.2 398.4,280.2 398.8,280.1 399.2,279.9 399.6,279.6 400.0,279.5 400.4,279.6 400.8,279.7 401.2,279.9 401.6,280.0 402.0,280.2 402.4,280.4 402.8,280.4 403.2,280.4 403.6,280.3 404.0,280.4 404.4,280.5 404.8,280.7 405.2,280.8 405.6,280.6 406.0,280.4 406.4,280.2 406.8,280.6 407.2,280.9 407.6,281.3 408.0,281.0 408.4,280.5 408.8,280.1 409.2,279.9 409.6,280.1 410.0,280.2 410.4,280.2 410.8,279.9 411.2,279.6 411.6,279.2 412.0,279.3 412.4,279.4 412.8,279.5 413.2,279.9 413.6,280.3 414.0,280.7 414.4,280.7 414.8,280.3" fill="none" stroke="#80e0d8" stroke-width="1.0" stroke-linejoin="round" />
<polyline points="243.9,280.0 244.3,280.0 244.7,280.0 245.1,279.9 245.5,279.9 245.9,280.0 246.3,280.0 246.7,280.1 247.1,280.2 247.5,280.4 247.9,280.6 248.3,280.6 248.7,280.5 249.1,280.5 249.5,280.3 249.9,280.1 250.3,280.0 250.7,279.9 251.1,279.8 251.5,279.8 251.9,279.8 252.3,280.0 252.7,280.2 253.1,280.3 253.5,280.3 253.9,280.2 254.3,280.1 254.4,280.2 254.5,280.2 254.5,280.2 254.6,280.3 254.6,280.3 254.7,280.3 254.7,280.3 254.8,280.3" fill="none" stroke="#4f7f7d" stroke-width="1.1" stroke-linejoin="round" />
<polyline points="255.3,324.0 255.4,325.1 255.4,324.6 255.5,323.8 255.5,323.0 255.6,322.1 255.6,321.2 255.7,320.2 255.7,319.3 255.8,318.3 255.8,317.3 255.9,316.3 255.9,315.3 256.0,314.3 256.0,313.3 256.1,312.3 256.1,311.3 256.2,310.4 256.2,309.4 256.3,308.5 256.3,307.6 256.4,306.7 256.4,305.8 256.5,305.0 256.5,304.2 256.6,303.4 256.6,302.6 256.7,301.8 256.7,301.1 256.8,300.3 256.8,299.7 256.9,299.0 256.9,298.3 257.0,297.6 257.0,297.0 257.1,296.3 257.1,295.7 257.2,295.1 257.2,294.5 257.3,294.0 257.3,293.4 257.4,292.9 257.4,292.4 257.5,291.9 257.5,291.4 257.6,290.9 257.6,290.5 257.7,290.1 257.7,289.6 257.8,289.2 257.8,288.9 257.9,288.5 257.9,288.1 258.0,287.8 258.0,287.4 258.4,285.2 258.8,283.6 259.2,282.5 259.6,281.7 260.0,281.2 260.4,280.9 260.8,280.7 261.2,280.5 261.6,280.3 262.0,280.1 262.4,280.0 262.8,280.0 263.2,280.0 263.6,279.9 264.0,279.9 264.4,279.9 264.8,279.9 265.2,280.0 265.6,280.1 266.0,280.2 266.4,280.1 266.8,280.1 267.2,280.1 267.6,280.3 268.0,280.4 268.4,280.6 268.8,280.6 269.2,280.4 269.6,280.2 270.0,280.1 270.4,280.1 270.8,280.2 271.2,280.2 271.6,280.0 272.0,279.9 272.4,279.7 272.8,280.0 273.2,280.4 273.6,280.9 274.0,281.0 274.4,280.8 274.8,280.6 275.2,280.6 275.6,280.8 276.0,281.0 276.4,281.1 276.8,281.0 277.2,280.8 277.6,280.7 278.0,280.7 278.4,280.8 278.8,280.9 279.2,280.9 279.6,280.6 280.0,280.3 280.4,280.1 280.8,280.3 281.2,280.4 281.6,280.6 282.0,280.9 282.4,281.2 282.8,281.5 283.2,281.1 283.6,280.5 284.0,279.9 284.4,279.8 284.8,280.2 285.2,280.5 285.6,280.8 286.0,280.9 286.4,281.0 286.8,281.1 287.2,280.9 287.6,280.7 288.0,280.5 288.4,280.5 288.8,280.5 289.2,280.6 289.6,280.6 290.0,280.7 290.4,280.8 290.8,280.8 291.2,280.5 291.6,280.2 292.0,279.9 292.4,280.0 292.8,280.2 293.2,280.4 293.6,280.3 294.0,280.1 294.4,279.9 294.8,279.8 295.2,279.8 295.6,279.8 296.0,279.9 296.4,279.9 296.8,279.9 297.2,279.9 297.6,280.0 298.0,280.0 298.4,280.1 298.8,280.2 299.2,280.2 299.6,280.3 300.0,280.3 300.4,280.4 300.8,280.4 301.2,280.4 301.6,280.1 302.0,279.8 302.4,279.5 302.8,280.0 303.2,280.5 303.6,281.1 304.0,281.1 304.4,281.0 304.8,280.9 305.2,280.8 305.6,280.7 306.0,280.6 306.4,280.5 306.8,280.4 307.2,280.2 307.6,280.0 308.0,280.1 308.4,280.1 308.8,280.1 309.2,280.2 309.6,280.3 310.0,280.4 310.4,280.5 310.8,280.5 311.2,280.4 311.6,280.3 312.0,280.0 312.4,279.7 312.8,279.3 313.2,279.7 313.6,280.1 314.0,280.5 314.4,280.8 314.8,281.2 315.2,281.5 315.6,281.3 316.0,280.6 316.4,279.8 316.8,279.4 317.2,279.8 317.6,280.3 318.0,280.7 318.4,280.6 318.8,280.5 319.2,280.4 319.6,280.3 320.0,280.3 320.4,280.2 320.8,280.3 321.2,280.5 321.6,280.7 322.0,280.8 322.4,280.4 322.8,280.0 323.2,279.6 323.6,279.8 324.0,280.0 324.4,280.2 324.8,280.4 325.2,280.6 325.6,280.8 326.0,280.8 326.4,280.6 326.8,280.3 327.2,280.1 327.6,280.1 328.0,280.0 328.4,280.0 328.8,280.1 329.2,280.2 329.6,280.2 330.0,280.2 330.4,280.1 330.8,280.0 331.2,280.1 331.6,280.4 332.0,280.8 332.4,280.9 332.8,280.5 333.2,280.1 333.6,279.7 334.0,280.0 334.4,280.3 334.8,280.6 335.2,280.4 335.6,280.1 336.0,279.7 336.4,279.7 336.8,280.0 337.2,280.3 337.6,280.5 338.0,280.4 338.4,280.3 338.8,280.1 339.2,279.8 339.6,279.4 340.0,279.0 340.4,279.2 340.8,279.6 341.2,280.0 341.6,280.1 342.0,279.9 342.4,279.8 342.8,279.7 343.2,279.8 343.6,279.9 344.0,280.0 344.4,280.3 344.8,280.6 345.2,280.9 345.6,280.7 346.0,280.3 346.4,279.8 346.8,279.6 347.2,279.6 347.6,279.6 348.0,279.8 348.4,280.1 348.8,280.5 349.2,280.9 349.6,280.7 350.0,280.5 350.4,280.3 350.8,280.4 351.2,280.7 351.6,280.9 352.0,280.9 352.4,280.7 352.8,280.5 353.2,280.3 353.6,280.1 354.0,279.9 354.4,279.7 354.8,279.9 355.2,280.0 355.6,280.1 356.0,280.3 356.4,280.5 356.8,280.7 357.2,280.8 357.6,280.8 358.0,280.7 358.4,280.6 358.8,280.5 359.2,280.3 359.6,280.2 360.0,280.2 360.4,280.2 360.8,280.2 361.2,280.2 361.6,280.2 362.0,280.2 362.4,280.1 362.8,280.0 363.2,280.0 363.6,280.0 364.0,280.4 364.4,280.8 364.8,281.2 365.2,280.9 365.6,280.6 366.0,280.3 366.4,280.1 366.8,279.9 367.2,279.7 367.6,279.7 368.0,279.8 368.4,279.9 368.8,280.0 369.2,280.2 369.6,280.4 370.0,280.6 370.4,280.6 370.8,280.5 371.2,280.5 371.6,280.4 372.0,280.3 372.4,280.2 372.8,280.1 373.2,280.0 373.6,279.9 374.0,279.9 374.4,280.0 374.8,280.1 375.2,280.2 375.6,279.9 376.0,279.7 376.4,279.4 376.8,279.4 377.2,279.4 377.6,279.5 378.0,279.7 378.4,280.0 378.8,280.4 379.2,280.6 379.6,280.4 380.0,280.2 380.4,280.0 380.8,280.1 381.2,280.2 381.6,280.4 382.0,280.5 382.4,280.6 382.8,280.8 383.2,280.8 383.6,280.7 384.0,280.6 384.4,280.5 384.8,280.4 385.2,280.3 385.6,280.2 386.0,280.5 386.4,280.9 386.8,281.2 387.2,281.1 387.6,280.9 388.0,280.7 388.4,280.5 388.8,280.3 389.2,280.1 389.6,280.1 390.0,280.2 390.4,280.4 390.8,280.6 391.2,280.5 391.6,280.5 392.0,280.4 392.4,280.3 392.8,280.1 393.2,279.9 393.6,279.8 394.0,280.0 394.4,280.1 394.8,280.2 395.2,280.2 395.6,280.2 396.0,280.1 396.4,279.8 396.8,279.5 397.2,279.3 397.6,279.4 398.0,279.7 398.4,280.0 398.8,280.1 399.2,280.1 399.6,280.1 400.0,280.0 400.4,280.0 400.8,280.0 401.2,280.0 401.6,279.8 402.0,279.6 402.4,279.4 402.8,279.5 403.2,279.7 403.6,279.9 404.0,280.0 404.4,280.1 404.8,280.1 405.2,280.2 405.6,280.2 406.0,280.2 406.4,280.3 406.8,280.1 407.2,279.9 407.6,279.7 408.0,279.8 408.4,280.1 408.8,280.4 409.2,280.4 409.6,280.1 410.0,279.8 410.4,279.6 410.8,279.8 411.2,279.9 411.6,280.1 412.0,280.3 412.4,280.6 412.8,280.8 413.2,280.6 413.6,280.3 414.0,280.0 414.4,279.9 414.8,279.9" fill="none" stroke="#4f7f7d" stroke-width="1.0" stroke-linejoin="round" />
<polyline points="243.9,280.3 244.3,280.4 244.7,280.6 245.1,280.7 245.5,280.4 245.9,279.8 246.3,279.3 246.7,279.2 247.1,279.4 247.5,279.6 247.9,279.8 248.3,279.7 248.7,279.7 249.1,279.7 249.5,279.7 249.9,279.7 250.3,279.6 250.7,279.7 251.1,279.7 251.5,279.7 251.9,279.8 252.3,279.8 252.7,279.8 253.1,279.8 253.5,280.0 253.9,280.2 254.3,280.4 254.4,280.3 254.5,280.3 254.5,280.3 254.6,280.2 254.6,280.2 254.7,280.2 254.7,280.2 254.8,280.1" fill="none" stroke="#5a2418" stroke-width="1.1" stroke-linejoin="round" />
<polyline points="255.7,334.3 255.7,335.1 255.8,334.7 255.8,334.2 255.9,333.7 255.9,333.1 256.0,332.4 256.0,331.8 256.1,331.1 256.1,330.4 256.2,329.6 256.2,328.9 256.3,328.2 256.3,327.4 256.4,326.7 256.4,325.9 256.5,325.1 256.5,324.4 256.6,323.6 256.6,322.8 256.7,322.1 256.7,321.3 256.8,320.6 256.8,319.8 256.9,319.1 256.9,318.3 257.0,317.6 257.0,316.8 257.1,316.1 257.1,315.4 257.2,314.7 257.2,314.0 257.3,313.3 257.3,312.6 257.4,311.9 257.4,311.2 257.5,310.6 257.5,309.9 257.6,309.3 257.6,308.7 257.7,308.0 257.7,307.4 257.8,306.8 257.8,306.2 257.9,305.6 257.9,305.1 258.0,304.5 258.0,303.9 258.4,299.8 258.8,296.1 259.2,293.0 259.6,290.4 260.0,288.5 260.4,286.9 260.8,285.7 261.2,284.8 261.6,284.2 262.0,283.8 262.4,283.1 262.8,282.5 263.2,282.0 263.6,281.5 264.0,281.2 264.4,280.9 264.8,280.7 265.2,280.7 265.6,280.7 266.0,280.7 266.4,280.5 266.8,280.4 267.2,280.2 267.6,280.3 268.0,280.5 268.4,280.6 268.8,280.7 269.2,280.8 269.6,280.9 270.0,280.9 270.4,280.6 270.8,280.4 271.2,280.1 271.6,280.2 272.0,280.3 272.4,280.3 272.8,280.5 273.2,280.7 273.6,280.9 274.0,280.9 274.4,280.6 274.8,280.4 275.2,280.2 275.6,280.3 276.0,280.4 276.4,280.5 276.8,280.3 277.2,280.1 277.6,279.9 278.0,279.9 278.4,279.9 278.8,279.9 279.2,280.0 279.6,280.0 280.0,280.1 280.4,280.2 280.8,280.6 281.2,281.0 281.6,281.4 282.0,281.0 282.4,280.6 282.8,280.2 283.2,280.1 283.6,280.1 284.0,280.1 284.4,280.1 284.8,280.0 285.2,280.0 285.6,280.0 286.0,280.1 286.4,280.2 286.8,280.2 287.2,280.3 287.6,280.5 288.0,280.6 288.4,280.6 288.8,280.5 289.2,280.4 289.6,280.5 290.0,280.8 290.4,281.1 290.8,281.2 291.2,281.0 291.6,280.7 292.0,280.4 292.4,280.6 292.8,280.8 293.2,280.9 293.6,280.9 294.0,280.7 294.4,280.5 294.8,280.4 295.2,280.5 295.6,280.5 296.0,280.5 296.4,280.2 296.8,279.8 297.2,279.5 297.6,279.7 298.0,279.9 298.4,280.1 298.8,280.2 299.2,280.2 299.6,280.2 300.0,280.2 300.4,280.2 300.8,280.1 301.2,280.0 301.6,279.8 302.0,279.5 302.4,279.2 302.8,279.6 303.2,280.1 303.6,280.6 304.0,280.5 304.4,280.3 304.8,280.1 305.2,280.0 305.6,280.0 306.0,280.0 306.4,280.0 306.8,280.0 307.2,280.1 307.6,280.1 308.0,280.1 308.4,280.1 308.8,280.1 309.2,280.2 309.6,280.3 310.0,280.4 310.4,280.3 310.8,280.0 311.2,279.8 311.6,279.6 312.0,279.6 312.4,279.7 312.8,279.8 313.2,279.9 313.6,280.1 314.0,280.3 314.4,280.3 314.8,280.3 315.2,280.3 315.6,280.2 316.0,280.2 316.4,280.1 316.8,280.0 317.2,280.0 317.6,280.0 318.0,279.9 318.4,279.9 318.8,279.8 319.2,279.8 319.6,279.9 320.0,280.0 320.4,280.1 320.8,280.3 321.2,280.5 321.6,280.7 322.0,280.7 322.4,280.4 322.8,280.0 323.2,279.7 323.6,280.1 324.0,280.5 324.4,280.9 324.8,280.9 325.2,280.8 325.6,280.7 326.0,280.5 326.4,280.3 326.8,280.1 327.2,280.0 327.6,280.2 328.0,280.4 328.4,280.6 328.8,280.3 329.2,279.9 329.6,279.6 330.0,279.4 330.4,279.4 330.8,279.4 331.2,279.4 331.6,279.4 332.0,279.5 332.4,279.6 332.8,279.7 333.2,279.9 333.6,280.0 334.0,280.0 334.4,280.0 334.8,280.0 335.2,280.0 335.6,280.0 336.0,280.0 336.4,280.0 336.8,280.1 337.2,280.2 337.6,280.2 338.0,279.8 338.4,279.5 338.8,279.1 339.2,279.5 339.6,279.9 340.0,280.3 340.4,280.2 340.8,279.9 341.2,279.6 341.6,279.6 342.0,279.7 342.4,279.8 342.8,279.9 343.2,279.9 343.6,280.0 344.0,280.0 344.4,279.9 344.8,279.8 345.2,279.7 345.6,279.6 346.0,279.6 346.4,279.5 346.8,279.5 347.2,279.6 347.6,279.7 348.0,279.7 348.4,279.9 348.8,280.0 349.2,280.2 349.6,280.3 350.0,280.4 350.4,280.5 350.8,280.5 351.2,280.5 351.6,280.5 352.0,280.4 352.4,280.1 352.8,279.9 353.2,279.7 353.6,279.7 354.0,279.8 354.4,279.8 354.8,279.8 355.2,279.8 355.6,279.7 356.0,279.9 356.4,280.1 356.8,280.3 357.2,280.2 357.6,279.9 358.0,279.5 358.4,279.3 358.8,279.8 359.2,280.3 359.6,280.8 360.0,280.6 360.4,280.3 360.8,280.0 361.2,279.9 361.6,279.9 362.0,279.8 362.4,279.9 362.8,280.1 363.2,280.2 363.6,280.4 364.0,280.5 364.4,280.6 364.8,280.7 365.2,280.6 365.6,280.5 366.0,280.4 366.4,280.5 366.8,280.6 367.2,280.7 367.6,280.7 368.0,280.5 368.4,280.4 368.8,280.3 369.2,280.5 369.6,280.6 370.0,280.8 370.4,280.8 370.8,280.8 371.2,280.8 371.6,280.7 372.0,280.5 372.4,280.3 372.8,280.3 373.2,280.5 373.6,280.7 374.0,280.9 374.4,280.7 374.8,280.5 375.2,280.3 375.6,280.3 376.0,280.3 376.4,280.2 376.8,280.1 377.2,280.0 377.6,279.8 378.0,279.8 378.4,279.9 378.8,280.0 379.2,280.1 379.6,280.3 380.0,280.4 380.4,280.6 380.8,280.3 381.2,279.9 381.6,279.6 382.0,279.8 382.4,280.1 382.8,280.4 383.2,280.5 383.6,280.5 384.0,280.4 384.4,280.4 384.8,280.4 385.2,280.3 385.6,280.3 386.0,280.0 386.4,279.6 386.8,279.2 387.2,279.3 387.6,279.7 388.0,280.0 388.4,280.2 388.8,280.3 389.2,280.4 389.6,280.5 390.0,280.3 390.4,280.0 390.8,279.8 391.2,279.9 391.6,280.1 392.0,280.2 392.4,280.0 392.8,279.6 393.2,279.2 393.6,279.2 394.0,279.7 394.4,280.2 394.8,280.5 395.2,280.3 395.6,280.1 396.0,279.9 396.4,280.1 396.8,280.3 397.2,280.6 397.6,280.3 398.0,279.9 398.4,279.5 398.8,279.5 399.2,279.9 399.6,280.3 400.0,280.5 400.4,280.4 400.8,280.2 401.2,280.1 401.6,280.2 402.0,280.4 402.4,280.6 402.8,280.4 403.2,280.1 403.6,279.9 404.0,279.8 404.4,279.8 404.8,279.9 405.2,280.0 405.6,280.4 406.0,280.9 406.4,281.3 406.8,280.8 407.2,280.4 407.6,279.9 408.0,279.8 408.4,279.8 408.8,279.8 409.2,279.9 409.6,279.9 410.0,280.0 410.4,280.0 410.8,279.9 411.2,279.8 411.6,279.7 412.0,280.0 412.4,280.4 412.8,280.7 413.2,280.9 413.6,280.9 414.0,281.0 414.4,280.9 414.8,280.5" fill="none" stroke="#5a2418" stroke-width="1.0" stroke-linejoin="round" />
<polyline points="243.9,280.6 244.3,280.7 244.7,280.7 245.1,280.8 245.5,280.5 245.9,280.2 246.3,279.9 246.7,279.8 247.1,279.9 247.5,280.0 247.9,280.1 248.3,279.9 248.7,279.7 249.1,279.5 249.5,279.5 249.9,279.5 250.3,279.5 250.7,279.8 251.1,280.1 251.5,280.5 251.9,280.6 252.3,280.3 252.7,280.1 253.1,280.0 253.5,280.4 253.9,280.9 254.3,281.3 254.4,281.3 254.5,281.2 254.5,281.2 254.6,281.1 254.6,281.1 254.7,281.0 254.7,281.0 254.8,281.0" fill="none" stroke="#1e1e1e" stroke-width="1.1" stroke-linejoin="round" />
<polyline points="255.8,338.0 255.9,338.0 255.9,337.5 256.0,337.0 256.0,336.4 256.1,335.8 256.1,335.1 256.2,334.4 256.2,333.7 256.3,333.0 256.3,332.3 256.4,331.5 256.4,330.8 256.5,330.0 256.5,329.2 256.6,328.5 256.6,327.7 256.7,326.9 256.7,326.1 256.8,325.3 256.8,324.5 256.9,323.8 256.9,323.0 257.0,322.2 257.0,321.5 257.1,320.7 257.1,320.0 257.2,319.2 257.2,318.5 257.3,317.8 257.3,317.1 257.4,316.3 257.4,315.6 257.5,314.9 257.5,314.3 257.6,313.6 257.6,312.9 257.7,312.3 257.7,311.6 257.8,311.0 257.8,310.4 257.9,309.7 257.9,309.1 258.0,308.5 258.0,307.9 258.4,303.6 258.8,299.8 259.2,296.6 259.6,293.9 260.0,291.4 260.4,289.3 260.8,287.5 261.2,285.9 261.6,284.6 262.0,283.5 262.4,283.0 262.8,282.7 263.2,282.5 263.6,282.3 264.0,282.2 264.4,282.1 264.8,282.0 265.2,281.6 265.6,281.2 266.0,280.9 266.4,280.8 266.8,280.7 267.2,280.6 267.6,280.7 268.0,281.0 268.4,281.2 268.8,281.3 269.2,281.1 269.6,281.0 270.0,280.8 270.4,280.6 270.8,280.4 271.2,280.2 271.6,280.3 272.0,280.4 272.4,280.5 272.8,280.5 273.2,280.4 273.6,280.3 274.0,280.4 274.4,280.5 274.8,280.7 275.2,280.8 275.6,280.7 276.0,280.7 276.4,280.7 276.8,280.8 277.2,281.0 277.6,281.1 278.0,281.1 278.4,281.0 278.8,281.0 279.2,280.7 279.6,280.4 280.0,280.0 280.4,279.8 280.8,280.1 281.2,280.4 281.6,280.7 282.0,280.8 282.4,280.9 282.8,280.9 283.2,280.9 283.6,280.8 284.0,280.7 284.4,280.7 284.8,280.8 285.2,280.9 285.6,280.9 286.0,280.7 286.4,280.4 286.8,280.2 287.2,280.1 287.6,280.0 288.0,280.0 288.4,280.2 288.8,280.5 289.2,280.7 289.6,280.7 290.0,280.4 290.4,280.1 290.8,279.8 291.2,279.7 291.6,279.5 292.0,279.3 292.4,279.8 292.8,280.3 293.2,280.8 293.6,280.7 294.0,280.4 294.4,280.1 294.8,280.0 295.2,280.1 295.6,280.2 296.0,280.2 296.4,280.0 296.8,279.8 297.2,279.6 297.6,279.7 298.0,279.7 298.4,279.7 298.8,279.7 299.2,279.7 299.6,279.7 300.0,279.8 300.4,279.9 300.8,280.1 301.2,280.2 301.6,280.3 302.0,280.4 302.4,280.5 302.8,280.1 303.2,279.7 303.6,279.3 304.0,279.5 304.4,280.0 304.8,280.4 305.2,280.5 305.6,280.2 306.0,279.9 306.4,279.7 306.8,279.7 307.2,279.7 307.6,279.8 308.0,280.0 308.4,280.3 308.8,280.6 309.2,280.5 309.6,280.4 310.0,280.3 310.4,280.1 310.8,279.9 311.2,279.7 311.6,279.6 312.0,280.2 312.4,280.7 312.8,281.2 313.2,280.8 313.6,280.4 314.0,279.9 314.4,280.0 314.8,280.1 315.2,280.3 315.6,280.4 316.0,280.4 316.4,280.4 316.8,280.4 317.2,280.6 317.6,280.8 318.0,281.0 318.4,280.7 318.8,280.4 319.2,280.1 319.6,280.2 320.0,280.4 320.4,280.6 320.8,280.6 321.2,280.3 321.6,280.1 322.0,279.9 322.4,280.2 322.8,280.5 323.2,280.8 323.6,280.5 324.0,280.2 324.4,279.9 324.8,279.9 325.2,280.0 325.6,280.0 326.0,280.2 326.4,280.6 326.8,280.9 327.2,281.1 327.6,280.9 328.0,280.6 328.4,280.4 328.8,280.4 329.2,280.3 329.6,280.3 330.0,280.5 330.4,280.9 330.8,281.2 331.2,281.2 331.6,280.9 332.0,280.6 332.4,280.4 332.8,280.2 333.2,280.0 333.6,279.8 334.0,280.1 334.4,280.3 334.8,280.5 335.2,280.4 335.6,280.1 336.0,279.8 336.4,279.8 336.8,280.2 337.2,280.5 337.6,280.8 338.0,280.8 338.4,280.8 338.8,280.8 339.2,280.5 339.6,280.3 340.0,280.0 340.4,279.9 340.8,279.9 341.2,279.9 341.6,280.0 342.0,280.1 342.4,280.2 342.8,280.3 343.2,280.3 343.6,280.2 344.0,280.2 344.4,280.1 344.8,279.9 345.2,279.8 345.6,279.9 346.0,280.1 346.4,280.4 346.8,280.3 347.2,279.9 347.6,279.5 348.0,279.3 348.4,279.5 348.8,279.7 349.2,280.0 349.6,280.0 350.0,280.0 350.4,280.0 350.8,280.0 351.2,280.0 351.6,280.1 352.0,280.1 352.4,280.2 352.8,280.3 353.2,280.3 353.6,280.1 354.0,279.8 354.4,279.6 354.8,279.9 355.2,280.2 355.6,280.4 356.0,280.4 356.4,280.3 356.8,280.2 357.2,280.1 357.6,280.0 358.0,279.9 358.4,279.9 358.8,279.7 359.2,279.6 359.6,279.5 360.0,279.6 360.4,279.6 360.8,279.6 361.2,279.8 361.6,280.0 362.0,280.3 362.4,280.3 362.8,280.1 363.2,279.9 363.6,279.8 364.0,279.9 364.4,280.1 364.8,280.2 365.2,280.4 365.6,280.5 366.0,280.7 366.4,280.7 366.8,280.7 367.2,280.7 367.6,280.8 368.0,280.8 368.4,280.9 368.8,280.9 369.2,280.6 369.6,280.3 370.0,280.1 370.4,279.9 370.8,279.8 371.2,279.7 371.6,279.9 372.0,280.2 372.4,280.6 372.8,280.7 373.2,280.5 373.6,280.4 374.0,280.4 374.4,280.5 374.8,280.6 375.2,280.8 375.6,280.6 376.0,280.4 376.4,280.3 376.8,280.3 377.2,280.5 377.6,280.7 378.0,280.8 378.4,280.7 378.8,280.7 379.2,280.6 379.6,280.6 380.0,280.6 380.4,280.6 380.8,280.5 381.2,280.5 381.6,280.5 382.0,280.4 382.4,280.4 382.8,280.4 383.2,280.4 383.6,280.4 384.0,280.3 384.4,280.3 384.8,280.3 385.2,280.3 385.6,280.3 386.0,280.4 386.4,280.5 386.8,280.7 387.2,280.5 387.6,280.3 388.0,280.1 388.4,280.1 388.8,280.5 389.2,280.8 389.6,281.0 390.0,280.7 390.4,280.4 390.8,280.1 391.2,280.3 391.6,280.5 392.0,280.7 392.4,280.6 392.8,280.4 393.2,280.2 393.6,280.1 394.0,280.1 394.4,280.1 394.8,280.2 395.2,280.5 395.6,280.9 396.0,281.2 396.4,280.9 396.8,280.5 397.2,280.1 397.6,279.9 398.0,279.8 398.4,279.6 398.8,279.6 399.2,279.7 399.6,279.8 400.0,279.9 400.4,279.9 400.8,280.0 401.2,280.0 401.6,280.4 402.0,280.8 402.4,281.2 402.8,281.1 403.2,280.8 403.6,280.5 404.0,280.4 404.4,280.5 404.8,280.6 405.2,280.6 405.6,280.3 406.0,280.0 406.4,279.7 406.8,279.9 407.2,280.1 407.6,280.3 408.0,280.4 408.4,280.5 408.8,280.5 409.2,280.6 409.6,280.8 410.0,281.0 410.4,281.0 410.8,280.6 411.2,280.2 411.6,279.9 412.0,280.1 412.4,280.3 412.8,280.5 413.2,280.5 413.6,280.4 414.0,280.4 414.4,280.2 414.8,280.0" fill="none" stroke="#1e1e1e" stroke-width="1.0" stroke-linejoin="round" />
<polyline points="243.9,280.5 244.3,280.5 244.7,280.5 245.1,280.5 245.5,280.4 245.9,280.2 246.3,280.1 246.7,279.9 247.1,279.8 247.5,279.6 247.9,279.6 248.3,280.1 248.7,280.5 249.1,280.9 249.5,280.8 249.9,280.6 250.3,280.4 250.7,280.4 251.1,280.5 251.5,280.7 251.9,280.7 252.3,280.8 252.7,280.9 253.1,280.8 253.5,280.5 253.9,280.2 254.3,279.9 254.4,280.0 254.5,280.0 254.5,280.0 254.6,280.1 254.6,280.1 254.7,280.1 254.7,280.1 254.8,280.2" fill="none" stroke="#9c8a4a" stroke-width="1.1" stroke-linejoin="round" />
<polyline points="255.9,339.1 255.9,340.2 256.0,339.9 256.0,339.5 256.1,339.0 256.1,338.4 256.2,337.8 256.2,337.2 256.3,336.5 256.3,335.9 256.4,335.2 256.4,334.5 256.5,333.8 256.5,333.0 256.6,332.3 256.6,331.6 256.7,330.8 256.7,330.1 256.8,329.3 256.8,328.6 256.9,327.8 256.9,327.1 257.0,326.3 257.0,325.6 257.1,324.8 257.1,324.1 257.2,323.3 257.2,322.6 257.3,321.9 257.3,321.2 257.4,320.4 257.4,319.7 257.5,319.0 257.5,318.3 257.6,317.6 257.6,316.9 257.7,316.3 257.7,315.6 257.8,314.9 257.8,314.3 257.9,313.6 257.9,313.0 258.0,312.3 258.0,311.7 258.4,307.0 258.8,302.8 259.2,299.2 259.6,296.1 260.0,293.4 260.4,291.2 260.8,289.3 261.2,287.9 261.6,286.7 262.0,285.8 262.4,284.9 262.8,284.0 263.2,283.3 263.6,282.7 264.0,282.3 264.4,282.0 264.8,281.7 265.2,281.5 265.6,281.3 266.0,281.2 266.4,281.2 266.8,281.2 267.2,281.2 267.6,281.0 268.0,280.8 268.4,280.6 268.8,280.5 269.2,280.5 269.6,280.5 270.0,280.6 270.4,280.6 270.8,280.7 271.2,280.7 271.6,280.7 272.0,280.6 272.4,280.5 272.8,280.5 273.2,280.5 273.6,280.6 274.0,280.6 274.4,280.5 274.8,280.4 275.2,280.5 275.6,280.8 276.0,281.2 276.4,281.6 276.8,281.5 277.2,281.4 277.6,281.3 278.0,281.2 278.4,281.0 278.8,280.9 279.2,280.8 279.6,280.7 280.0,280.6 280.4,280.6 280.8,280.9 281.2,281.3 281.6,281.6 282.0,281.3 282.4,281.0 282.8,280.7 283.2,280.6 283.6,280.6 284.0,280.5 284.4,280.5 284.8,280.5 285.2,280.6 285.6,280.6 286.0,280.6 286.4,280.6 286.8,280.6 287.2,280.8 287.6,280.9 288.0,281.1 288.4,281.0 288.8,280.8 289.2,280.5 289.6,280.6 290.0,280.9 290.4,281.2 290.8,281.3 291.2,280.9 291.6,280.4 292.0,280.0 292.4,280.2 292.8,280.4 293.2,280.7 293.6,280.5 294.0,280.3 294.4,280.0 294.8,280.1 295.2,280.5 295.6,280.9 296.0,281.2 296.4,280.9 296.8,280.5 297.2,280.2 297.6,280.2 298.0,280.3 298.4,280.3 298.8,280.4 299.2,280.6 299.6,280.7 300.0,280.8 300.4,280.9 300.8,280.9 301.2,280.9 301.6,280.5 302.0,280.1 302.4,279.8 302.8,279.9 303.2,280.0 303.6,280.1 304.0,280.0 304.4,279.9 304.8,279.7 305.2,279.7 305.6,280.0 306.0,280.2 306.4,280.4 306.8,280.3 307.2,280.3 307.6,280.2 308.0,280.2 308.4,280.2 308.8,280.1 309.2,280.1 309.6,280.0 310.0,280.0 310.4,280.0 310.8,280.0 311.2,280.0 311.6,280.1 312.0,280.0 312.4,280.0 312.8,279.9 313.2,280.1 313.6,280.3 314.0,280.5 314.4,280.6 314.8,280.8 315.2,280.9 315.6,280.8 316.0,280.2 316.4,279.7 316.8,279.4 317.2,279.6 317.6,279.9 318.0,280.2 318.4,280.1 318.8,280.1 319.2,280.1 319.6,280.1 320.0,280.3 320.4,280.4 320.8,280.4 321.2,280.2 321.6,279.9 322.0,279.8 322.4,279.9 322.8,280.0 323.2,280.2 323.6,280.0 324.0,279.9 324.4,279.8 324.8,279.9 325.2,280.2 325.6,280.5 326.0,280.5 326.4,280.4 326.8,280.4 327.2,280.3 327.6,280.2 328.0,280.2 328.4,280.2 328.8,280.2 329.2,280.3 329.6,280.4 330.0,280.3 330.4,280.2 330.8,280.2 331.2,280.0 331.6,279.8 332.0,279.6 332.4,279.5 332.8,279.9 333.2,280.2 333.6,280.5 334.0,280.5 334.4,280.4 334.8,280.4 335.2,280.3 335.6,280.2 336.0,280.2 336.4,280.2 336.8,280.4 337.2,280.6 337.6,280.7 338.0,280.8 338.4,280.8 338.8,280.8 339.2,280.5 339.6,280.1 340.0,279.8 340.4,279.7 340.8,279.8 341.2,279.8 341.6,280.0 342.0,280.4 342.4,280.7 342.8,281.0 343.2,281.0 343.6,280.9 344.0,280.9 344.4,280.6 344.8,280.3 345.2,279.9 345.6,279.8 346.0,279.7 346.4,279.7 346.8,279.7 347.2,279.7 347.6,279.8 348.0,279.9 348.4,279.9 348.8,279.9 349.2,280.0 349.6,279.8 350.0,279.6 350.4,279.5 350.8,279.6 351.2,279.9 351.6,280.1 352.0,280.1 352.4,279.9 352.8,279.7 353.2,279.6 353.6,279.6 354.0,279.6 354.4,279.6 354.8,279.9 355.2,280.3 355.6,280.6 356.0,280.5 356.4,280.2 356.8,280.0 357.2,279.9 357.6,280.0 358.0,280.1 358.4,280.2 358.8,280.3 359.2,280.4 359.6,280.5 360.0,280.5 360.4,280.6 360.8,280.6 361.2,280.5 361.6,280.3 362.0,280.1 362.4,280.1 362.8,280.1 363.2,280.2 363.6,280.2 364.0,280.1 364.4,279.9 364.8,279.8 365.2,280.2 365.6,280.6 366.0,281.0 366.4,281.0 366.8,280.8 367.2,280.6 367.6,280.4 368.0,280.1 368.4,279.9 368.8,279.7 369.2,279.9 369.6,280.0 370.0,280.2 370.4,280.3 370.8,280.4 371.2,280.5 371.6,280.5 372.0,280.5 372.4,280.5 372.8,280.5 373.2,280.8 373.6,281.0 374.0,281.1 374.4,281.0 374.8,281.0 375.2,280.9 375.6,280.6 376.0,280.3 376.4,280.0 376.8,280.0 377.2,280.1 377.6,280.1 378.0,280.1 378.4,279.9 378.8,279.7 379.2,279.6 379.6,279.9 380.0,280.1 380.4,280.3 380.8,280.3 381.2,280.3 381.6,280.3 382.0,280.6 382.4,281.0 382.8,281.4 383.2,281.4 383.6,281.0 384.0,280.6 384.4,280.2 384.8,279.8 385.2,279.5 385.6,279.2 386.0,279.4 386.4,279.6 386.8,279.8 387.2,280.0 387.6,280.1 388.0,280.2 388.4,280.2 388.8,279.9 389.2,279.7 389.6,279.6 390.0,279.6 390.4,279.7 390.8,279.8 391.2,279.8 391.6,279.9 392.0,280.0 392.4,280.1 392.8,280.2 393.2,280.3 393.6,280.3 394.0,280.3 394.4,280.2 394.8,280.1 395.2,280.0 395.6,279.9 396.0,279.8 396.4,280.0 396.8,280.3 397.2,280.5 397.6,280.4 398.0,280.2 398.4,280.0 398.8,279.9 399.2,279.9 399.6,279.9 400.0,279.9 400.4,279.8 400.8,279.6 401.2,279.5 401.6,279.6 402.0,279.7 402.4,279.8 402.8,280.0 403.2,280.2 403.6,280.4 404.0,280.4 404.4,280.0 404.8,279.7 405.2,279.5 405.6,279.7 406.0,279.9 406.4,280.2 406.8,280.3 407.2,280.4 407.6,280.5 408.0,280.4 408.4,280.3 408.8,280.1 409.2,280.1 409.6,280.2 410.0,280.2 410.4,280.3 410.8,280.1 411.2,279.9 411.6,279.6 412.0,280.0 412.4,280.4 412.8,280.8 413.2,280.8 413.6,280.8 414.0,280.8 414.4,280.7 414.8,280.6" fill="none" stroke="#9c8a4a" stroke-width="1.0" stroke-linejoin="round" />
<polyline points="243.9,281.1 244.3,280.8 244.7,280.6 245.1,280.4 245.5,280.5 245.9,280.6 246.3,280.8 246.7,280.7 247.1,280.4 247.5,280.1 247.9,279.9 248.3,280.0 248.7,280.0 249.1,280.1 249.5,280.1 249.9,280.2 250.3,280.2 250.7,280.2 251.1,280.3 251.5,280.4 251.9,280.3 252.3,280.0 252.7,279.7 253.1,279.5 253.5,279.9 253.9,280.3 254.3,280.7 254.4,280.7 254.5,280.7 254.5,280.7 254.6,280.7 254.6,280.7 254.7,280.7 254.7,280.7 254.8,280.7" fill="none" stroke="#3a6b32" stroke-width="1.1" stroke-linejoin="round" />
<polyline points="256.0,341.3 256.0,342.2 256.1,341.9 256.1,341.4 256.2,340.9 256.2,340.4 256.3,339.8 256.3,339.1 256.4,338.5 256.4,337.8 256.5,337.1 256.5,336.4 256.6,335.7 256.6,335.0 256.7,334.3 256.7,333.5 256.8,332.8 256.8,332.0 256.9,331.2 256.9,330.5 257.0,329.7 257.0,329.0 257.1,328.2 257.1,327.5 257.2,326.7 257.2,326.0 257.3,325.2 257.3,324.5 257.4,323.8 257.4,323.0 257.5,322.3 257.5,321.6 257.6,320.9 257.6,320.2 257.7,319.5 257.7,318.8 257.8,318.1 257.8,317.4 257.9,316.7 257.9,316.0 258.0,315.4 258.0,314.7 258.4,309.8 258.8,305.6 259.2,301.9 259.6,298.6 260.0,295.6 260.4,293.0 260.8,290.7 261.2,288.7 261.6,287.0 262.0,285.5 262.4,284.8 262.8,284.4 263.2,284.2 263.6,283.8 264.0,283.2 264.4,282.8 264.8,282.4 265.2,282.1 265.6,281.8 266.0,281.5 266.4,281.8 266.8,282.1 267.2,282.4 267.6,282.2 268.0,281.8 268.4,281.5 268.8,281.2 269.2,281.0 269.6,280.9 270.0,280.8 270.4,280.9 270.8,281.0 271.2,281.1 271.6,280.9 272.0,280.7 272.4,280.5 272.8,280.5 273.2,280.5 273.6,280.6 274.0,280.7 274.4,280.8 274.8,281.0 275.2,281.1 275.6,280.9 276.0,280.8 276.4,280.6 276.8,280.6 277.2,280.6 277.6,280.6 278.0,280.9 278.4,281.2 278.8,281.5 279.2,281.6 279.6,281.4 280.0,281.3 280.4,281.2 280.8,281.2 281.2,281.2 281.6,281.2 282.0,281.1 282.4,281.1 282.8,281.0 283.2,281.0 283.6,281.0 284.0,280.9 284.4,281.0 284.8,281.2 285.2,281.3 285.6,281.3 286.0,281.1 286.4,280.9 286.8,280.6 287.2,280.9 287.6,281.2 288.0,281.5 288.4,281.2 288.8,280.8 289.2,280.4 289.6,280.2 290.0,280.3 290.4,280.4 290.8,280.4 291.2,280.2 291.6,280.1 292.0,279.9 292.4,280.0 292.8,280.2 293.2,280.3 293.6,280.5 294.0,280.6 294.4,280.7 294.8,280.9 295.2,281.0 295.6,281.1 296.0,281.2 296.4,280.8 296.8,280.5 297.2,280.2 297.6,280.3 298.0,280.4 298.4,280.5 298.8,280.4 299.2,280.4 299.6,280.3 300.0,280.3 300.4,280.2 300.8,280.1 301.2,280.1 301.6,280.0 302.0,279.9 302.4,279.8 302.8,280.0 303.2,280.2 303.6,280.4 304.0,280.3 304.4,280.0 304.8,279.7 305.2,279.7 305.6,280.0 306.0,280.3 306.4,280.5 306.8,280.4 307.2,280.4 307.6,280.4 308.0,280.3 308.4,280.2 308.8,280.1 309.2,280.0 309.6,280.0 310.0,279.9 310.4,279.8 310.8,279.8 311.2,279.7 311.6,279.8 312.0,280.3 312.4,280.8 312.8,281.3 313.2,280.8 313.6,280.3 314.0,279.8 314.4,280.0 314.8,280.5 315.2,280.9 315.6,281.0 316.0,280.9 316.4,280.7 316.8,280.6 317.2,280.4 317.6,280.3 318.0,280.1 318.4,280.0 318.8,279.9 319.2,279.8 319.6,280.0 320.0,280.3 320.4,280.7 320.8,280.9 321.2,281.0 321.6,281.1 322.0,281.1 322.4,280.7 322.8,280.2 323.2,279.8 323.6,279.9 324.0,280.0 324.4,280.1 324.8,280.3 325.2,280.5 325.6,280.7 326.0,280.8 326.4,280.7 326.8,280.5 327.2,280.5 327.6,280.8 328.0,281.0 328.4,281.3 328.8,280.9 329.2,280.5 329.6,280.1 330.0,280.1 330.4,280.3 330.8,280.5 331.2,280.4 331.6,280.1 332.0,279.9 332.4,279.8 332.8,280.3 333.2,280.8 333.6,281.3 334.0,280.9 334.4,280.4 334.8,280.0 335.2,279.7 335.6,279.5 336.0,279.3 336.4,279.3 336.8,279.6 337.2,280.0 337.6,280.2 338.0,280.2 338.4,280.2 338.8,280.2 339.2,280.5 339.6,280.8 340.0,281.1 340.4,281.0 340.8,280.6 341.2,280.3 341.6,280.1 342.0,280.2 342.4,280.2 342.8,280.3 343.2,280.4 343.6,280.4 344.0,280.5 344.4,280.7 344.8,280.8 345.2,281.0 345.6,280.8 346.0,280.6 346.4,280.3 346.8,280.3 347.2,280.5 347.6,280.6 348.0,280.7 348.4,280.7 348.8,280.6 349.2,280.5 349.6,280.4 350.0,280.2 350.4,280.1 350.8,280.1 351.2,280.2 351.6,280.2 352.0,280.3 352.4,280.3 352.8,280.3 353.2,280.2 353.6,280.1 354.0,279.9 354.4,279.8 354.8,280.1 355.2,280.4 355.6,280.8 356.0,280.5 356.4,280.1 356.8,279.7 357.2,279.7 357.6,280.1 358.0,280.5 358.4,280.8 358.8,280.8 359.2,280.7 359.6,280.7 360.0,280.5 360.4,280.4 360.8,280.2 361.2,280.1 361.6,280.0 362.0,279.9 362.4,279.9 362.8,280.0 363.2,280.0 363.6,280.1 364.0,280.2 364.4,280.3 364.8,280.5 365.2,280.5 365.6,280.5 366.0,280.6 366.4,280.5 366.8,280.5 367.2,280.4 367.6,280.4 368.0,280.5 368.4,280.6 368.8,280.7 369.2,280.4 369.6,280.2 370.0,279.9 370.4,280.1 370.8,280.2 371.2,280.3 371.6,280.1 372.0,279.8 372.4,279.6 372.8,279.6 373.2,280.0 373.6,280.3 374.0,280.6 374.4,280.5 374.8,280.4 375.2,280.3 375.6,280.2 376.0,280.1 376.4,280.0 376.8,280.2 377.2,280.4 377.6,280.7 378.0,280.8 378.4,280.7 378.8,280.6 379.2,280.4 379.6,279.9 380.0,279.3 380.4,278.8 380.8,279.2 381.2,279.7 381.6,280.1 382.0,280.1 382.4,279.8 382.8,279.6 383.2,279.7 383.6,280.1 384.0,280.5 384.4,280.8 384.8,281.0 385.2,281.2 385.6,281.5 386.0,281.0 386.4,280.5 386.8,280.1 387.2,280.0 387.6,280.1 388.0,280.2 388.4,280.2 388.8,280.2 389.2,280.1 389.6,280.1 390.0,280.2 390.4,280.3 390.8,280.4 391.2,280.4 391.6,280.5 392.0,280.5 392.4,280.6 392.8,280.7 393.2,280.8 393.6,280.7 394.0,280.3 394.4,280.0 394.8,279.8 395.2,280.2 395.6,280.6 396.0,281.0 396.4,280.6 396.8,280.2 397.2,279.8 397.6,279.9 398.0,280.1 398.4,280.3 398.8,280.4 399.2,280.5 399.6,280.7 400.0,280.8 400.4,280.7 400.8,280.6 401.2,280.6 401.6,280.3 402.0,280.1 402.4,279.8 402.8,279.8 403.2,279.8 403.6,279.8 404.0,279.9 404.4,279.9 404.8,279.9 405.2,280.0 405.6,280.1 406.0,280.1 406.4,280.2 406.8,280.4 407.2,280.5 407.6,280.7 408.0,280.5 408.4,280.1 408.8,279.7 409.2,279.7 409.6,280.0 410.0,280.2 410.4,280.4 410.8,280.5 411.2,280.5 411.6,280.5 412.0,280.5 412.4,280.5 412.8,280.5 413.2,280.5 413.6,280.5 414.0,280.4 414.4,280.5 414.8,280.7" fill="none" stroke="#3a6b32" stroke-width="1.0" stroke-linejoin="round" />
<polyline points="243.9,281.1 244.3,280.5 244.7,280.0 245.1,279.4 245.5,279.6 245.9,280.1 246.3,280.6 246.7,280.7 247.1,280.5 247.5,280.2 247.9,280.1 248.3,280.1 248.7,280.1 249.1,280.1 249.5,280.0 249.9,279.8 250.3,279.7 250.7,279.6 251.1,279.5 251.5,279.3 251.9,279.4 252.3,279.6 252.7,279.8 253.1,280.0 253.5,280.0 253.9,279.9 254.3,279.9 254.4,279.9 254.5,279.9 254.5,279.9 254.6,280.0 254.6,280.0 254.7,280.0 254.7,280.0 254.8,280.1" fill="none" stroke="#b040c0" stroke-width="1.1" stroke-linejoin="round" />
<polyline points="256.4,349.9 256.5,350.0 256.5,349.7 256.6,349.3 256.6,348.9 256.7,348.4 256.7,347.9 256.8,347.4 256.8,346.8 256.9,346.3 256.9,345.7 257.0,345.1 257.0,344.6 257.1,344.0 257.1,343.4 257.2,342.8 257.2,342.2 257.3,341.6 257.3,341.0 257.4,340.3 257.4,339.7 257.5,339.1 257.5,338.5 257.6,337.8 257.6,337.2 257.7,336.6 257.7,336.0 257.8,335.3 257.8,334.7 257.9,334.1 257.9,333.5 258.0,332.9 258.0,332.3 258.4,327.4 258.8,322.6 259.2,318.1 259.6,313.9 260.0,310.0 260.4,306.6 260.8,303.4 261.2,300.6 261.6,298.0 262.0,295.8 262.4,293.8 262.8,292.1 263.2,290.6 263.6,289.3 264.0,288.1 264.4,287.1 264.8,286.2 265.2,285.6 265.6,285.0 266.0,284.6 266.4,284.2 266.8,283.9 267.2,283.6 267.6,283.4 268.0,283.1 268.4,282.9 268.8,282.6 269.2,282.2 269.6,281.9 270.0,281.7 270.4,281.8 270.8,281.9 271.2,282.0 271.6,281.8 272.0,281.7 272.4,281.6 272.8,281.6 273.2,281.7 273.6,281.9 274.0,282.0 274.4,282.3 274.8,282.5 275.2,282.6 275.6,282.4 276.0,282.2 276.4,282.0 276.8,281.8 277.2,281.7 277.6,281.5 278.0,281.3 278.4,281.1 278.8,280.9 279.2,280.8 279.6,280.8 280.0,280.8 280.4,280.8 280.8,280.8 281.2,280.7 281.6,280.7 282.0,281.0 282.4,281.4 282.8,281.7 283.2,281.6 283.6,281.4 284.0,281.2 284.4,281.1 284.8,281.2 285.2,281.3 285.6,281.4 286.0,281.3 286.4,281.2 286.8,281.0 287.2,281.1 287.6,281.2 288.0,281.3 288.4,281.5 288.8,281.7 289.2,281.9 289.6,281.8 290.0,281.5 290.4,281.1 290.8,280.9 291.2,281.0 291.6,281.0 292.0,281.0 292.4,281.0 292.8,280.9 293.2,280.8 293.6,281.0 294.0,281.2 294.4,281.5 294.8,281.4 295.2,281.1 295.6,280.8 296.0,280.6 296.4,280.6 296.8,280.5 297.2,280.5 297.6,280.5 298.0,280.4 298.4,280.4 298.8,280.4 299.2,280.3 299.6,280.3 300.0,280.5 300.4,280.7 300.8,281.0 301.2,281.3 301.6,281.6 302.0,281.9 302.4,282.2 302.8,281.7 303.2,281.1 303.6,280.6 304.0,280.7 304.4,281.0 304.8,281.3 305.2,281.3 305.6,281.2 306.0,281.1 306.4,281.0 306.8,280.8 307.2,280.5 307.6,280.3 308.0,280.5 308.4,280.6 308.8,280.7 309.2,280.7 309.6,280.7 310.0,280.7 310.4,280.7 310.8,280.6 311.2,280.5 311.6,280.6 312.0,281.0 312.4,281.4 312.8,281.8 313.2,281.2 313.6,280.6 314.0,280.0 314.4,280.1 314.8,280.4 315.2,280.8 315.6,280.9 316.0,280.9 316.4,280.9 316.8,280.9 317.2,280.7 317.6,280.6 318.0,280.4 318.4,280.5 318.8,280.7 319.2,280.8 319.6,280.9 320.0,281.0 320.4,281.1 320.8,281.1 321.2,281.0 321.6,280.8 322.0,280.8 322.4,280.8 322.8,280.8 323.2,280.9 323.6,280.9 324.0,280.9 324.4,281.0 324.8,280.7 325.2,280.3 325.6,279.8 326.0,279.9 326.4,280.4 326.8,281.0 327.2,281.4 327.6,281.5 328.0,281.6 328.4,281.7 328.8,281.5 329.2,281.3 329.6,281.1 330.0,281.1 330.4,281.1 330.8,281.1 331.2,280.9 331.6,280.5 332.0,280.1 332.4,279.9 332.8,280.1 333.2,280.3 333.6,280.5 334.0,280.4 334.4,280.3 334.8,280.2 335.2,280.2 335.6,280.2 336.0,280.2 336.4,280.4 336.8,280.6 337.2,280.8 337.6,280.9 338.0,280.7 338.4,280.4 338.8,280.1 339.2,280.2 339.6,280.3 340.0,280.4 340.4,280.2 340.8,280.0 341.2,279.7 341.6,279.7 342.0,279.9 342.4,280.2 342.8,280.4 343.2,280.4 343.6,280.5 344.0,280.5 344.4,280.4 344.8,280.3 345.2,280.1 345.6,280.1 346.0,280.1 346.4,280.1 346.8,280.3 347.2,280.7 347.6,281.1 348.0,281.3 348.4,280.8 348.8,280.3 349.2,279.8 349.6,279.9 350.0,279.9 350.4,279.9 350.8,279.9 351.2,280.0 351.6,280.0 352.0,280.2 352.4,280.5 352.8,280.8 353.2,281.1 353.6,281.2 354.0,281.3 354.4,281.5 354.8,281.2 355.2,280.9 355.6,280.6 356.0,280.4 356.4,280.3 356.8,280.1 357.2,280.1 357.6,280.1 358.0,280.1 358.4,280.2 358.8,280.5 359.2,280.7 359.6,280.9 360.0,280.6 360.4,280.3 360.8,280.0 361.2,280.2 361.6,280.6 362.0,280.9 362.4,281.1 362.8,281.1 363.2,281.1 363.6,281.0 364.0,280.8 364.4,280.6 364.8,280.4 365.2,280.5 365.6,280.6 366.0,280.7 366.4,280.7 366.8,280.7 367.2,280.7 367.6,280.8 368.0,280.9 368.4,281.0 368.8,281.0 369.2,280.6 369.6,280.2 370.0,279.8 370.4,280.2 370.8,280.5 371.2,280.8 371.6,280.7 372.0,280.5 372.4,280.3 372.8,280.1 373.2,280.1 373.6,280.0 374.0,280.0 374.4,280.1 374.8,280.2 375.2,280.4 375.6,280.3 376.0,280.3 376.4,280.2 376.8,280.1 377.2,280.0 377.6,279.9 378.0,279.8 378.4,279.7 378.8,279.6 379.2,279.5 379.6,279.6 380.0,279.7 380.4,279.8 380.8,280.2 381.2,280.6 381.6,280.9 382.0,281.1 382.4,281.2 382.8,281.2 383.2,281.2 383.6,281.0 384.0,280.8 384.4,280.6 384.8,280.7 385.2,280.8 385.6,280.9 386.0,280.6 386.4,280.4 386.8,280.1 387.2,280.1 387.6,280.2 388.0,280.2 388.4,280.3 388.8,280.3 389.2,280.4 389.6,280.4 390.0,280.2 390.4,280.0 390.8,279.7 391.2,279.8 391.6,279.8 392.0,279.8 392.4,279.9 392.8,280.1 393.2,280.2 393.6,280.3 394.0,280.2 394.4,280.2 394.8,280.1 395.2,280.0 395.6,279.9 396.0,279.7 396.4,280.0 396.8,280.2 397.2,280.4 397.6,280.4 398.0,280.3 398.4,280.2 398.8,280.2 399.2,280.4 399.6,280.6 400.0,280.7 400.4,280.6 400.8,280.4 401.2,280.3 401.6,280.2 402.0,280.2 402.4,280.1 402.8,280.2 403.2,280.2 403.6,280.3 404.0,280.3 404.4,280.3 404.8,280.2 405.2,280.2 405.6,280.1 406.0,280.0 406.4,279.9 406.8,280.0 407.2,280.0 407.6,280.0 408.0,280.2 408.4,280.4 408.8,280.5 409.2,280.6 409.6,280.6 410.0,280.6 410.4,280.6 410.8,280.7 411.2,280.8 411.6,280.9 412.0,280.4 412.4,280.0 412.8,279.5 413.2,279.6 413.6,279.8 414.0,280.0 414.4,280.0 414.8,280.0" fill="none" stroke="#b040c0" stroke-width="1.0" stroke-linejoin="round" />
<polyline points="243.9,280.6 244.3,280.5 244.7,280.4 245.1,280.3 245.5,280.1 245.9,279.9 246.3,279.7 246.7,279.8 247.1,280.2 247.5,280.6 247.9,280.9 248.3,280.8 248.7,280.8 249.1,280.7 249.5,280.5 249.9,280.2 250.3,280.0 250.7,280.1 251.1,280.3 251.5,280.5 251.9,280.5 252.3,280.3 252.7,280.0 253.1,279.9 253.5,280.2 253.9,280.5 254.3,280.8 254.4,280.7 254.5,280.7 254.5,280.7 254.6,280.6 254.6,280.6 254.7,280.6 254.7,280.6 254.8,280.5" fill="none" stroke="#90d860" stroke-width="1.1" stroke-linejoin="round" />
<polyline points="256.5,351.6 256.6,352.1 256.6,351.8 256.7,351.5 256.7,351.1 256.8,350.7 256.8,350.2 256.9,349.7 256.9,349.2 257.0,348.7 257.0,348.2 257.1,347.6 257.1,347.1 257.2,346.5 257.2,345.9 257.3,345.3 257.3,344.7 257.4,344.2 257.4,343.6 257.5,342.9 257.5,342.3 257.6,341.7 257.6,341.1 257.7,340.5 257.7,339.9 257.8,339.3 257.8,338.6 257.9,338.0 257.9,337.4 258.0,336.8 258.0,336.2 258.4,331.3 258.8,326.5 259.2,322.0 259.6,317.7 260.0,313.9 260.4,310.4 260.8,307.3 261.2,304.3 261.6,301.7 262.0,299.3 262.4,297.2 262.8,295.3 263.2,293.6 263.6,292.1 264.0,290.7 264.4,289.5 264.8,288.4 265.2,287.1 265.6,285.9 266.0,284.8 266.4,284.8 266.8,284.8 267.2,285.0 267.6,284.5 268.0,283.9 268.4,283.4 268.8,283.2 269.2,283.3 269.6,283.4 270.0,283.6 270.4,283.6 270.8,283.6 271.2,283.6 271.6,283.4 272.0,283.2 272.4,283.1 272.8,282.9 273.2,282.8 273.6,282.6 274.0,282.5 274.4,282.5 274.8,282.5 275.2,282.5 275.6,282.5 276.0,282.5 276.4,282.5 276.8,282.4 277.2,282.3 277.6,282.2 278.0,282.2 278.4,282.2 278.8,282.2 279.2,282.1 279.6,282.1 280.0,282.0 280.4,282.0 280.8,282.3 281.2,282.6 281.6,282.9 282.0,282.7 282.4,282.5 282.8,282.3 283.2,282.4 283.6,282.5 284.0,282.6 284.4,282.6 284.8,282.4 285.2,282.2 285.6,282.1 286.0,282.1 286.4,282.2 286.8,282.2 287.2,282.1 287.6,282.1 288.0,282.0 288.4,282.1 288.8,282.2 289.2,282.3 289.6,282.3 290.0,282.4 290.4,282.4 290.8,282.4 291.2,282.3 291.6,282.2 292.0,282.1 292.4,282.0 292.8,281.8 293.2,281.7 293.6,281.6 294.0,281.6 294.4,281.6 294.8,281.7 295.2,282.1 295.6,282.4 296.0,282.6 296.4,282.3 296.8,282.0 297.2,281.7 297.6,281.7 298.0,281.7 298.4,281.7 298.8,281.9 299.2,282.1 299.6,282.4 300.0,282.5 300.4,282.4 300.8,282.3 301.2,282.3 301.6,282.2 302.0,282.1 302.4,282.0 302.8,281.8 303.2,281.7 303.6,281.5 304.0,281.8 304.4,282.2 304.8,282.6 305.2,282.6 305.6,282.3 306.0,282.0 306.4,281.8 306.8,281.8 307.2,281.8 307.6,281.9 308.0,281.7 308.4,281.6 308.8,281.5 309.2,281.3 309.6,281.1 310.0,280.9 310.4,280.8 310.8,280.8 311.2,280.8 311.6,280.9 312.0,281.2 312.4,281.4 312.8,281.7 313.2,281.7 313.6,281.6 314.0,281.6 314.4,281.6 314.8,281.5 315.2,281.3 315.6,281.2 316.0,281.1 316.4,280.9 316.8,280.8 317.2,280.8 317.6,280.7 318.0,280.7 318.4,280.8 318.8,281.0 319.2,281.1 319.6,281.0 320.0,280.9 320.4,280.7 320.8,280.8 321.2,281.1 321.6,281.5 322.0,281.7 322.4,281.8 322.8,281.8 323.2,281.8 323.6,282.1 324.0,282.3 324.4,282.6 324.8,282.4 325.2,282.1 325.6,281.8 326.0,281.5 326.4,281.3 326.8,281.1 327.2,280.9 327.6,280.8 328.0,280.8 328.4,280.7 328.8,280.3 329.2,280.0 329.6,279.6 330.0,279.8 330.4,280.2 330.8,280.6 331.2,280.9 331.6,280.9 332.0,281.0 332.4,281.1 332.8,281.2 333.2,281.4 333.6,281.6 334.0,281.5 334.4,281.5 334.8,281.4 335.2,281.4 335.6,281.4 336.0,281.4 336.4,281.3 336.8,281.3 337.2,281.2 337.6,281.2 338.0,281.2 338.4,281.3 338.8,281.3 339.2,281.5 339.6,281.6 340.0,281.7 340.4,281.4 340.8,281.0 341.2,280.7 341.6,280.5 342.0,280.6 342.4,280.7 342.8,280.7 343.2,280.6 343.6,280.4 344.0,280.3 344.4,280.7 344.8,281.2 345.2,281.6 345.6,281.7 346.0,281.6 346.4,281.6 346.8,281.5 347.2,281.4 347.6,281.3 348.0,281.2 348.4,280.9 348.8,280.6 349.2,280.3 349.6,280.5 350.0,280.7 350.4,280.9 350.8,280.9 351.2,280.8 351.6,280.8 352.0,280.8 352.4,280.8 352.8,280.9 353.2,280.9 353.6,280.8 354.0,280.8 354.4,280.7 354.8,280.8 355.2,280.9 355.6,281.1 356.0,281.0 356.4,280.8 356.8,280.7 357.2,280.7 357.6,280.9 358.0,281.1 358.4,281.2 358.8,281.1 359.2,281.0 359.6,280.9 360.0,280.8 360.4,280.7 360.8,280.6 361.2,280.6 361.6,280.7 362.0,280.7 362.4,280.7 362.8,280.6 363.2,280.6 363.6,280.6 364.0,280.8 364.4,280.9 364.8,281.1 365.2,281.0 365.6,280.8 366.0,280.6 366.4,280.6 366.8,280.7 367.2,280.8 367.6,280.8 368.0,280.7 368.4,280.6 368.8,280.5 369.2,280.3 369.6,280.1 370.0,280.0 370.4,280.3 370.8,280.7 371.2,281.0 371.6,280.9 372.0,280.6 372.4,280.3 372.8,280.3 373.2,280.5 373.6,280.8 374.0,281.0 374.4,280.9 374.8,280.9 375.2,280.9 375.6,280.5 376.0,280.2 376.4,279.9 376.8,279.9 377.2,280.0 377.6,280.1 378.0,280.2 378.4,280.3 378.8,280.3 379.2,280.4 379.6,280.3 380.0,280.3 380.4,280.2 380.8,280.1 381.2,280.1 381.6,280.0 382.0,280.2 382.4,280.5 382.8,280.8 383.2,280.9 383.6,280.7 384.0,280.6 384.4,280.5 384.8,280.6 385.2,280.7 385.6,280.8 386.0,280.6 386.4,280.5 386.8,280.4 387.2,280.4 387.6,280.5 388.0,280.7 388.4,280.6 388.8,280.5 389.2,280.3 389.6,280.2 390.0,280.3 390.4,280.4 390.8,280.5 391.2,280.6 391.6,280.7 392.0,280.8 392.4,280.8 392.8,280.7 393.2,280.6 393.6,280.5 394.0,280.4 394.4,280.4 394.8,280.3 395.2,280.2 395.6,280.1 396.0,280.0 396.4,280.2 396.8,280.4 397.2,280.5 397.6,280.6 398.0,280.6 398.4,280.7 398.8,280.6 399.2,280.5 399.6,280.4 400.0,280.3 400.4,280.3 400.8,280.2 401.2,280.1 401.6,280.3 402.0,280.5 402.4,280.7 402.8,281.0 403.2,281.3 403.6,281.6 404.0,281.5 404.4,281.1 404.8,280.6 405.2,280.3 405.6,280.4 406.0,280.5 406.4,280.6 406.8,280.6 407.2,280.6 407.6,280.6 408.0,280.3 408.4,279.9 408.8,279.4 409.2,279.4 409.6,279.8 410.0,280.2 410.4,280.5 410.8,280.4 411.2,280.2 411.6,280.1 412.0,280.4 412.4,280.7 412.8,281.0 413.2,280.9 413.6,280.7 414.0,280.4 414.4,280.3 414.8,280.2" fill="none" stroke="#90d860" stroke-width="1.0" stroke-linejoin="round" />
<polyline points="243.9,280.2 244.3,280.0 244.7,279.8 245.1,279.6 245.5,279.7 245.9,279.8 246.3,280.0 246.7,280.2 247.1,280.3 247.5,280.5 247.9,280.6 248.3,280.8 248.7,281.0 249.1,281.2 249.5,281.0 249.9,280.8 250.3,280.6 250.7,280.5 251.1,280.4 251.5,280.4 251.9,280.4 252.3,280.5 252.7,280.7 253.1,280.8 253.5,280.8 253.9,280.7 254.3,280.7 254.4,280.7 254.5,280.7 254.5,280.8 254.6,280.8 254.6,280.8 254.7,280.8 254.7,280.8 254.8,280.8" fill="none" stroke="#2828b0" stroke-width="1.1" stroke-linejoin="round" />
<polyline points="256.9,358.0 257.0,358.1 257.0,357.9 257.1,357.6 257.1,357.3 257.2,356.9 257.2,356.5 257.3,356.1 257.3,355.7 257.4,355.3 257.4,354.9 257.5,354.4 257.5,353.9 257.6,353.5 257.6,353.0 257.7,352.5 257.7,352.0 257.8,351.5 257.8,351.0 257.9,350.5 257.9,350.0 258.0,349.5 258.0,348.9 258.4,344.7 258.8,340.5 259.2,336.3 259.6,332.2 260.0,328.3 260.4,324.6 260.8,321.1 261.2,317.8 261.6,314.8 262.0,311.9 262.4,309.3 262.8,306.9 263.2,304.7 263.6,302.6 264.0,300.7 264.4,298.9 264.8,297.2 265.2,295.7 265.6,294.3 266.0,293.0 266.4,292.2 266.8,291.5 267.2,290.9 267.6,290.1 268.0,289.3 268.4,288.6 268.8,288.2 269.2,288.0 269.6,287.9 270.0,287.8 270.4,287.5 270.8,287.2 271.2,287.0 271.6,286.5 272.0,286.1 272.4,285.7 272.8,285.7 273.2,286.0 273.6,286.2 274.0,286.3 274.4,286.2 274.8,286.2 275.2,286.1 275.6,285.9 276.0,285.7 276.4,285.6 276.8,285.8 277.2,286.0 277.6,286.2 278.0,286.2 278.4,286.2 278.8,286.2 279.2,286.0 279.6,285.5 280.0,285.0 280.4,284.8 280.8,285.1 281.2,285.4 281.6,285.7 282.0,285.6 282.4,285.5 282.8,285.4 283.2,285.3 283.6,285.3 284.0,285.3 284.4,285.3 284.8,285.4 285.2,285.4 285.6,285.4 286.0,285.2 286.4,284.9 286.8,284.7 287.2,284.7 287.6,284.7 288.0,284.7 288.4,284.6 288.8,284.6 289.2,284.5 289.6,284.5 290.0,284.5 290.4,284.5 290.8,284.5 291.2,284.6 291.6,284.7 292.0,284.8 292.4,284.6 292.8,284.4 293.2,284.2 293.6,284.1 294.0,284.2 294.4,284.2 294.8,284.4 295.2,284.6 295.6,284.8 296.0,285.0 296.4,284.9 296.8,284.7 297.2,284.6 297.6,284.7 298.0,284.7 298.4,284.8 298.8,284.6 299.2,284.2 299.6,283.9 300.0,283.8 300.4,283.9 300.8,284.1 301.2,284.2 301.6,284.2 302.0,284.2 302.4,284.3 302.8,284.3 303.2,284.4 303.6,284.5 304.0,284.4 304.4,284.3 304.8,284.2 305.2,284.3 305.6,284.5 306.0,284.7 306.4,284.8 306.8,284.6 307.2,284.5 307.6,284.3 308.0,284.3 308.4,284.3 308.8,284.3 309.2,284.3 309.6,284.3 310.0,284.3 310.4,284.3 310.8,284.4 311.2,284.5 311.6,284.5 312.0,284.3 312.4,284.1 312.8,283.8 313.2,284.0 313.6,284.2 314.0,284.4 314.4,284.3 314.8,284.1 315.2,284.0 315.6,283.8 316.0,283.7 316.4,283.5 316.8,283.4 317.2,283.2 317.6,283.1 318.0,282.9 318.4,282.9 318.8,282.8 319.2,282.8 319.6,282.8 320.0,282.7 320.4,282.7 320.8,282.7 321.2,282.6 321.6,282.5 322.0,282.4 322.4,282.3 322.8,282.2 323.2,282.0 323.6,282.1 324.0,282.1 324.4,282.2 324.8,282.1 325.2,282.0 325.6,281.8 326.0,281.9 326.4,282.0 326.8,282.2 327.2,282.3 327.6,282.1 328.0,281.9 328.4,281.7 328.8,281.3 329.2,281.0 329.6,280.7 330.0,281.0 330.4,281.5 330.8,282.0 331.2,282.2 331.6,282.0 332.0,281.8 332.4,281.6 332.8,281.4 333.2,281.2 333.6,281.0 334.0,281.2 334.4,281.3 334.8,281.5 335.2,281.4 335.6,281.3 336.0,281.2 336.4,281.4 336.8,281.8 337.2,282.3 337.6,282.5 338.0,282.3 338.4,282.0 338.8,281.8 339.2,281.5 339.6,281.2 340.0,280.9 340.4,281.0 340.8,281.3 341.2,281.6 341.6,281.7 342.0,281.6 342.4,281.4 342.8,281.4 343.2,281.8 343.6,282.1 344.0,282.5 344.4,282.0 344.8,281.5 345.2,281.1 345.6,280.8 346.0,280.7 346.4,280.5 346.8,280.6 347.2,280.9 347.6,281.2 348.0,281.5 348.4,281.4 348.8,281.4 349.2,281.3 349.6,281.3 350.0,281.3 350.4,281.3 350.8,281.0 351.2,280.8 351.6,280.5 352.0,280.6 352.4,281.0 352.8,281.4 353.2,281.7 353.6,281.9 354.0,282.1 354.4,282.2 354.8,281.7 355.2,281.2 355.6,280.6 356.0,280.8 356.4,281.3 356.8,281.7 357.2,281.8 357.6,281.6 358.0,281.3 358.4,281.2 358.8,281.7 359.2,282.1 359.6,282.5 360.0,282.2 360.4,282.0 360.8,281.7 361.2,281.5 361.6,281.4 362.0,281.3 362.4,281.4 362.8,281.6 363.2,281.8 363.6,281.9 364.0,281.8 364.4,281.7 364.8,281.6 365.2,281.4 365.6,281.3 366.0,281.1 366.4,281.2 366.8,281.4 367.2,281.6 367.6,281.6 368.0,281.4 368.4,281.2 368.8,281.0 369.2,280.8 369.6,280.6 370.0,280.4 370.4,281.0 370.8,281.6 371.2,282.2 371.6,282.0 372.0,281.7 372.4,281.3 372.8,281.1 373.2,281.0 373.6,281.0 374.0,281.0 374.4,281.1 374.8,281.3 375.2,281.4 375.6,281.1 376.0,280.8 376.4,280.6 376.8,280.5 377.2,280.5 377.6,280.6 378.0,280.6 378.4,280.8 378.8,280.9 379.2,281.0 379.6,281.0 380.0,281.0 380.4,281.0 380.8,281.1 381.2,281.1 381.6,281.2 382.0,281.4 382.4,281.5 382.8,281.7 383.2,281.6 383.6,281.4 384.0,281.2 384.4,281.0 384.8,281.1 385.2,281.3 385.6,281.4 386.0,281.4 386.4,281.5 386.8,281.5 387.2,281.3 387.6,281.0 388.0,280.8 388.4,280.7 388.8,280.9 389.2,281.1 389.6,281.2 390.0,281.1 390.4,280.9 390.8,280.7 391.2,281.0 391.6,281.3 392.0,281.6 392.4,281.6 392.8,281.5 393.2,281.4 393.6,281.3 394.0,281.3 394.4,281.2 394.8,281.1 395.2,280.9 395.6,280.7 396.0,280.5 396.4,280.7 396.8,280.9 397.2,281.1 397.6,281.1 398.0,280.9 398.4,280.8 398.8,280.8 399.2,281.1 399.6,281.3 400.0,281.4 400.4,281.3 400.8,281.2 401.2,281.0 401.6,280.9 402.0,280.8 402.4,280.7 402.8,280.9 403.2,281.1 403.6,281.4 404.0,281.5 404.4,281.5 404.8,281.5 405.2,281.4 405.6,281.2 406.0,281.0 406.4,280.8 406.8,281.0 407.2,281.3 407.6,281.6 408.0,281.5 408.4,281.2 408.8,281.0 409.2,280.9 409.6,280.9 410.0,280.9 410.4,280.9 410.8,281.0 411.2,281.0 411.6,281.1 412.0,281.0 412.4,280.8 412.8,280.7 413.2,280.7 413.6,280.7 414.0,280.8 414.4,280.8 414.8,280.9" fill="none" stroke="#2828b0" stroke-width="1.0" stroke-linejoin="round" />
<polyline points="243.9,281.0 244.3,280.8 244.7,280.5 245.1,280.2 245.5,280.2 245.9,280.3 246.3,280.4 246.7,280.4 247.1,280.5 247.5,280.6 247.9,280.6 248.3,280.5 248.7,280.4 249.1,280.3 249.5,280.7 249.9,281.0 250.3,281.3 250.7,281.2 251.1,280.8 251.5,280.5 251.9,280.2 252.3,280.0 252.7,279.8 253.1,279.7 253.5,280.1 253.9,280.5 254.3,280.9 254.4,280.8 254.5,280.8 254.5,280.7 254.6,280.7 254.6,280.7 254.7,280.6 254.7,280.6 254.8,280.6" fill="none" stroke="#5b2c6f" stroke-width="1.1" stroke-linejoin="round" />
<polyline points="257.1,360.1 257.1,360.0 257.2,359.7 257.2,359.4 257.3,359.1 257.3,358.7 257.4,358.3 257.4,357.9 257.5,357.5 257.5,357.1 257.6,356.6 257.6,356.2 257.7,355.7 257.7,355.2 257.8,354.7 257.8,354.2 257.9,353.7 257.9,353.2 258.0,352.7 258.0,352.2 258.4,348.0 258.8,343.9 259.2,339.9 259.6,335.9 260.0,331.9 260.4,328.1 260.8,324.5 261.2,321.2 261.6,318.0 262.0,315.0 262.4,312.3 262.8,309.8 263.2,307.5 263.6,305.5 264.0,303.6 264.4,301.9 264.8,300.4 265.2,298.7 265.6,297.2 266.0,295.8 266.4,294.8 266.8,294.0 267.2,293.3 267.6,292.4 268.0,291.5 268.4,290.6 268.8,290.0 269.2,289.6 269.6,289.2 270.0,288.9 270.4,288.7 270.8,288.6 271.2,288.6 271.6,288.2 272.0,287.9 272.4,287.7 272.8,287.3 273.2,286.9 273.6,286.5 274.0,286.4 274.4,286.5 274.8,286.7 275.2,286.8 275.6,286.6 276.0,286.5 276.4,286.3 276.8,286.2 277.2,286.1 277.6,285.9 278.0,286.0 278.4,286.1 278.8,286.3 279.2,286.3 279.6,286.1 280.0,286.0 280.4,285.8 280.8,285.7 281.2,285.5 281.6,285.3 282.0,285.3 282.4,285.4 282.8,285.4 283.2,285.7 283.6,286.1 284.0,286.5 284.4,286.5 284.8,286.0 285.2,285.5 285.6,285.2 286.0,285.4 286.4,285.7 286.8,285.9 287.2,285.9 287.6,286.0 288.0,286.0 288.4,286.0 288.8,286.0 289.2,286.0 289.6,285.8 290.0,285.6 290.4,285.3 290.8,285.1 291.2,285.2 291.6,285.3 292.0,285.4 292.4,285.5 292.8,285.5 293.2,285.6 293.6,285.7 294.0,285.7 294.4,285.8 294.8,285.8 295.2,285.5 295.6,285.3 296.0,285.1 296.4,285.0 296.8,284.9 297.2,284.9 297.6,285.2 298.0,285.5 298.4,285.8 298.8,285.8 299.2,285.8 299.6,285.8 300.0,285.8 300.4,285.7 300.8,285.5 301.2,285.4 301.6,285.2 302.0,285.1 302.4,284.9 302.8,285.1 303.2,285.2 303.6,285.3 304.0,285.3 304.4,285.3 304.8,285.2 305.2,285.2 305.6,285.3 306.0,285.4 306.4,285.4 306.8,285.1 307.2,284.8 307.6,284.4 308.0,284.6 308.4,284.8 308.8,285.0 309.2,285.0 309.6,284.9 310.0,284.9 310.4,284.8 310.8,284.6 311.2,284.4 311.6,284.3 312.0,284.5 312.4,284.6 312.8,284.8 313.2,284.7 313.6,284.6 314.0,284.5 314.4,284.4 314.8,284.3 315.2,284.1 315.6,284.0 316.0,284.0 316.4,284.0 316.8,283.9 317.2,283.5 317.6,283.1 318.0,282.7 318.4,282.7 318.8,282.8 319.2,282.9 319.6,282.9 320.0,282.8 320.4,282.8 320.8,282.7 321.2,282.6 321.6,282.5 322.0,282.4 322.4,282.5 322.8,282.6 323.2,282.7 323.6,282.3 324.0,281.9 324.4,281.5 324.8,281.4 325.2,281.3 325.6,281.3 326.0,281.4 326.4,281.6 326.8,281.9 327.2,282.1 327.6,282.1 328.0,282.1 328.4,282.1 328.8,282.4 329.2,282.6 329.6,282.9 330.0,282.7 330.4,282.5 330.8,282.3 331.2,282.1 331.6,281.8 332.0,281.6 332.4,281.5 332.8,281.7 333.2,282.0 333.6,282.2 334.0,282.0 334.4,281.7 334.8,281.5 335.2,281.3 335.6,281.2 336.0,281.1 336.4,281.4 336.8,282.0 337.2,282.6 337.6,283.0 338.0,282.6 338.4,282.3 338.8,281.9 339.2,282.0 339.6,282.0 340.0,282.1 340.4,282.1 340.8,282.1 341.2,282.0 341.6,282.1 342.0,282.3 342.4,282.5 342.8,282.6 343.2,282.3 343.6,282.1 344.0,281.9 344.4,282.0 344.8,282.1 345.2,282.3 345.6,282.1 346.0,281.7 346.4,281.4 346.8,281.2 347.2,281.1 347.6,281.0 348.0,281.1 348.4,281.5 348.8,282.0 349.2,282.4 349.6,282.4 350.0,282.4 350.4,282.4 350.8,282.3 351.2,282.1 351.6,282.0 352.0,281.9 352.4,281.8 352.8,281.8 353.2,281.7 353.6,281.7 354.0,281.7 354.4,281.7 354.8,281.6 355.2,281.4 355.6,281.3 356.0,281.5 356.4,281.9 356.8,282.2 357.2,282.3 357.6,282.1 358.0,282.0 358.4,281.9 358.8,281.9 359.2,281.8 359.6,281.8 360.0,281.8 360.4,281.8 360.8,281.8 361.2,281.8 361.6,281.9 362.0,282.0 362.4,282.0 362.8,281.9 363.2,281.9 363.6,281.8 364.0,281.8 364.4,281.9 364.8,281.9 365.2,281.6 365.6,281.3 366.0,281.0 366.4,281.1 366.8,281.4 367.2,281.6 367.6,281.9 368.0,282.1 368.4,282.4 368.8,282.5 369.2,282.1 369.6,281.6 370.0,281.2 370.4,281.3 370.8,281.3 371.2,281.4 371.6,281.5 372.0,281.7 372.4,281.8 372.8,281.9 373.2,281.9 373.6,281.9 374.0,281.9 374.4,281.9 374.8,281.8 375.2,281.7 375.6,281.4 376.0,281.1 376.4,280.7 376.8,280.9 377.2,281.2 377.6,281.5 378.0,281.5 378.4,281.3 378.8,281.0 379.2,280.8 379.6,280.9 380.0,280.9 380.4,281.0 380.8,281.2 381.2,281.4 381.6,281.6 382.0,281.6 382.4,281.4 382.8,281.3 383.2,281.3 383.6,281.5 384.0,281.6 384.4,281.9 384.8,282.2 385.2,282.6 385.6,282.9 386.0,282.5 386.4,282.2 386.8,281.8 387.2,281.7 387.6,281.7 388.0,281.7 388.4,281.6 388.8,281.3 389.2,281.1 389.6,280.9 390.0,280.9 390.4,281.0 390.8,281.0 391.2,280.9 391.6,280.9 392.0,280.8 392.4,280.8 392.8,280.9 393.2,281.0 393.6,281.0 394.0,280.9 394.4,280.8 394.8,280.8 395.2,280.8 395.6,280.9 396.0,281.0 396.4,281.0 396.8,281.1 397.2,281.1 397.6,281.1 398.0,280.9 398.4,280.8 398.8,280.7 399.2,280.7 399.6,280.6 400.0,280.5 400.4,280.6 400.8,280.6 401.2,280.6 401.6,280.8 402.0,281.1 402.4,281.4 402.8,281.4 403.2,281.3 403.6,281.3 404.0,281.3 404.4,281.5 404.8,281.6 405.2,281.7 405.6,281.7 406.0,281.7 406.4,281.7 406.8,281.5 407.2,281.3 407.6,281.1 408.0,281.1 408.4,281.3 408.8,281.4 409.2,281.4 409.6,281.0 410.0,280.7 410.4,280.6 410.8,281.2 411.2,281.7 411.6,282.3 412.0,282.1 412.4,282.0 412.8,281.8 413.2,281.6 413.6,281.4 414.0,281.2 414.4,281.0 414.8,280.8" fill="none" stroke="#5b2c6f" stroke-width="1.0" stroke-linejoin="round" />
<polyline points="243.9,280.6 244.3,280.5 244.7,280.4 245.1,280.3 245.5,280.2 245.9,280.1 246.3,280.0 246.7,280.1 247.1,280.3 247.5,280.5 247.9,280.6 248.3,280.3 248.7,280.0 249.1,279.7 249.5,279.9 249.9,280.1 250.3,280.3 250.7,280.3 251.1,280.1 251.5,280.0 251.9,279.9 252.3,279.9 252.7,279.8 253.1,279.8 253.5,280.0 253.9,280.2 254.3,280.4 254.4,280.4 254.5,280.3 254.5,280.3 254.6,280.3 254.6,280.3 254.7,280.2 254.7,280.2 254.8,280.2" fill="none" stroke="#b02a2a" stroke-width="1.1" stroke-linejoin="round" />
<polyline points="257.2,361.6 257.2,362.3 257.3,362.1 257.3,361.9 257.4,361.6 257.4,361.3 257.5,360.9 257.5,360.6 257.6,360.2 257.6,359.8 257.7,359.4 257.7,359.0 257.8,358.6 257.8,358.2 257.9,357.7 257.9,357.3 258.0,356.8 258.0,356.4 258.4,352.6 258.8,348.8 259.2,344.9 259.6,341.1 260.0,337.1 260.4,333.2 260.8,329.4 261.2,326.1 261.6,323.1 262.0,320.2 262.4,317.3 262.8,314.5 263.2,311.9 263.6,309.5 264.0,307.4 264.4,305.4 264.8,303.6 265.2,302.2 265.6,300.9 266.0,299.7 266.4,298.5 266.8,297.5 267.2,296.5 267.6,295.4 268.0,294.3 268.4,293.3 268.8,292.7 269.2,292.4 269.6,292.2 270.0,291.9 270.4,291.2 270.8,290.5 271.2,289.9 271.6,289.7 272.0,289.5 272.4,289.4 272.8,289.2 273.2,289.0 273.6,288.9 274.0,288.8 274.4,288.6 274.8,288.5 275.2,288.4 275.6,287.9 276.0,287.5 276.4,287.1 276.8,287.5 277.2,287.9 277.6,288.3 278.0,288.2 278.4,288.0 278.8,287.8 279.2,287.6 279.6,287.5 280.0,287.3 280.4,287.1 280.8,287.0 281.2,286.9 281.6,286.8 282.0,286.6 282.4,286.5 282.8,286.4 283.2,286.4 283.6,286.4 284.0,286.4 284.4,286.6 284.8,286.8 285.2,287.1 285.6,287.2 286.0,287.1 286.4,286.9 286.8,286.8 287.2,286.7 287.6,286.5 288.0,286.4 288.4,286.4 288.8,286.5 289.2,286.5 289.6,286.7 290.0,287.0 290.4,287.3 290.8,287.4 291.2,287.1 291.6,286.8 292.0,286.5 292.4,286.5 292.8,286.4 293.2,286.4 293.6,286.6 294.0,286.8 294.4,287.1 294.8,287.1 295.2,287.0 295.6,286.9 296.0,286.7 296.4,286.7 296.8,286.6 297.2,286.5 297.6,286.4 298.0,286.3 298.4,286.2 298.8,286.0 299.2,285.9 299.6,285.7 300.0,285.7 300.4,285.7 300.8,285.7 301.2,285.8 301.6,285.9 302.0,286.0 302.4,286.0 302.8,286.1 303.2,286.1 303.6,286.1 304.0,286.2 304.4,286.2 304.8,286.3 305.2,286.3 305.6,286.3 306.0,286.4 306.4,286.3 306.8,286.3 307.2,286.2 307.6,286.1 308.0,286.1 308.4,286.1 308.8,286.1 309.2,285.9 309.6,285.7 310.0,285.5 310.4,285.3 310.8,285.1 311.2,284.9 311.6,284.8 312.0,285.0 312.4,285.2 312.8,285.4 313.2,285.3 313.6,285.1 314.0,285.0 314.4,284.9 314.8,284.8 315.2,284.8 315.6,284.7 316.0,284.6 316.4,284.5 316.8,284.4 317.2,284.1 317.6,283.7 318.0,283.4 318.4,283.3 318.8,283.1 319.2,283.0 319.6,282.9 320.0,283.0 320.4,283.0 320.8,283.0 321.2,282.9 321.6,282.8 322.0,282.7 322.4,282.6 322.8,282.4 323.2,282.2 323.6,282.3 324.0,282.5 324.4,282.6 324.8,282.6 325.2,282.4 325.6,282.3 326.0,282.2 326.4,282.0 326.8,281.9 327.2,281.8 327.6,282.0 328.0,282.1 328.4,282.3 328.8,282.5 329.2,282.8 329.6,283.1 330.0,282.9 330.4,282.5 330.8,282.1 331.2,282.0 331.6,282.3 332.0,282.6 332.4,282.8 332.8,282.8 333.2,282.8 333.6,282.8 334.0,282.9 334.4,282.9 334.8,282.9 335.2,282.6 335.6,282.3 336.0,281.9 336.4,281.9 336.8,282.4 337.2,282.8 337.6,283.0 338.0,282.7 338.4,282.5 338.8,282.2 339.2,282.1 339.6,282.0 340.0,282.0 340.4,282.0 340.8,282.0 341.2,282.0 341.6,282.0 342.0,282.1 342.4,282.3 342.8,282.3 343.2,282.2 343.6,282.2 344.0,282.1 344.4,282.0 344.8,282.0 345.2,281.9 345.6,282.1 346.0,282.3 346.4,282.5 346.8,282.5 347.2,282.2 347.6,281.9 348.0,281.6 348.4,281.6 348.8,281.5 349.2,281.5 349.6,281.7 350.0,282.0 350.4,282.3 350.8,282.3 351.2,282.3 351.6,282.3 352.0,282.3 352.4,282.4 352.8,282.4 353.2,282.4 353.6,282.1 354.0,281.7 354.4,281.4 354.8,281.7 355.2,282.0 355.6,282.4 356.0,282.4 356.4,282.3 356.8,282.2 357.2,282.2 357.6,282.4 358.0,282.6 358.4,282.6 358.8,282.2 359.2,281.7 359.6,281.2 360.0,281.5 360.4,281.7 360.8,281.9 361.2,281.9 361.6,281.8 362.0,281.7 362.4,281.6 362.8,281.4 363.2,281.2 363.6,281.1 364.0,281.2 364.4,281.3 364.8,281.4 365.2,281.7 365.6,282.0 366.0,282.3 366.4,282.2 366.8,281.9 367.2,281.7 367.6,281.5 368.0,281.5 368.4,281.4 368.8,281.5 369.2,281.7 369.6,281.9 370.0,282.2 370.4,282.2 370.8,282.2 371.2,282.2 371.6,282.2 372.0,282.2 372.4,282.2 372.8,282.1 373.2,281.8 373.6,281.5 374.0,281.3 374.4,281.5 374.8,281.6 375.2,281.7 375.6,281.8 376.0,282.0 376.4,282.1 376.8,282.0 377.2,281.7 377.6,281.5 378.0,281.3 378.4,281.3 378.8,281.3 379.2,281.3 379.6,281.6 380.0,281.8 380.4,282.1 380.8,282.2 381.2,282.3 381.6,282.4 382.0,282.1 382.4,281.7 382.8,281.3 383.2,280.9 383.6,280.7 384.0,280.5 384.4,280.4 384.8,280.5 385.2,280.7 385.6,280.9 386.0,280.9 386.4,281.0 386.8,281.1 387.2,281.2 387.6,281.3 388.0,281.4 388.4,281.6 388.8,281.7 389.2,281.8 389.6,281.8 390.0,281.7 390.4,281.6 390.8,281.5 391.2,281.4 391.6,281.3 392.0,281.2 392.4,281.3 392.8,281.4 393.2,281.5 393.6,281.5 394.0,281.3 394.4,281.2 394.8,281.1 395.2,281.2 395.6,281.3 396.0,281.5 396.4,281.4 396.8,281.3 397.2,281.2 397.6,281.5 398.0,282.0 398.4,282.5 398.8,282.7 399.2,282.4 399.6,282.1 400.0,281.8 400.4,281.6 400.8,281.3 401.2,281.0 401.6,281.0 402.0,281.0 402.4,281.0 402.8,281.0 403.2,281.1 403.6,281.2 404.0,281.1 404.4,280.9 404.8,280.8 405.2,280.6 405.6,280.8 406.0,280.9 406.4,281.1 406.8,281.0 407.2,281.0 407.6,281.0 408.0,281.2 408.4,281.5 408.8,281.7 409.2,281.7 409.6,281.5 410.0,281.3 410.4,281.2 410.8,281.1 411.2,281.0 411.6,281.0 412.0,280.9 412.4,280.8 412.8,280.7 413.2,280.7 413.6,280.7 414.0,280.8 414.4,280.9 414.8,281.0" fill="none" stroke="#b02a2a" stroke-width="1.0" stroke-linejoin="round" />
<polyline points="254.4,280.2 254.8,280.2 254.9,297.6 254.9,303.2 255.0,307.2 255.0,310.5 255.1,313.4 255.1,315.9 255.2,318.2 255.2,320.2 255.3,322.2 255.3,324.0 255.4,325.7 255.4,327.3 255.5,328.8 255.5,330.3 255.6,331.7 255.6,333.0 255.7,334.3 255.7,335.6 255.8,336.8 255.8,338.0 255.9,339.1 255.9,340.2 256.0,341.3 256.0,342.3 256.1,343.4 256.1,344.4 256.2,345.3 256.2,346.3 256.3,347.2 256.3,348.1 256.4,349.0 256.4,349.9 256.5,350.8 256.5,351.6 256.6,352.5 256.6,353.3 256.7,354.1 256.7,354.9 256.8,355.7 256.8,356.4 256.9,357.2 256.9,357.9 257.0,358.7 257.0,359.4 257.1,360.1 257.1,360.8 257.2,361.5 257.2,362.2" fill="none" stroke="#7a3048" stroke-width="1.0" stroke-linejoin="round" />
<path d="M93.8,310 V331 H113.3" fill="none" stroke="#111" stroke-width="1.25"/>
<text transform="translate(91.2,341.7) scale(1.0,1.07)" font-size="9.1" text-anchor="start" font-weight="normal" font-style="normal" fill="#000" >50 ms</text>
<text transform="translate(89.6,332.2) rotate(-90) scale(1.0,1.25)" font-size="8.7" text-anchor="start" font-weight="normal" font-style="normal" fill="#000" >300pA</text>
<text transform="translate(68.5,226)" font-size="13.4" text-anchor="start" font-weight="normal" font-style="normal" fill="#000" >WT</text>
<text transform="translate(253.2,226.1) scale(1.05,1.0)" font-size="13.9" text-anchor="start" font-weight="normal" font-style="normal" fill="#000" >E2496ELE</text>
<line x1="421.7" y1="231.2" x2="432" y2="231.2" stroke="#5b2c6f" stroke-width="2.1"/>
<text transform="translate(436.5,234.8)" font-size="10.6" text-anchor="start" font-weight="normal" font-style="normal" fill="#000" >1um</text>
<line x1="421.7" y1="243.7" x2="432" y2="243.7" stroke="#5a2418" stroke-width="2.1"/>
<text transform="translate(436.5,247.3)" font-size="10.6" text-anchor="start" font-weight="normal" font-style="normal" fill="#000" >2um</text>
<line x1="421.7" y1="256.2" x2="432" y2="256.2" stroke="#9c8a4a" stroke-width="2.1"/>
<text transform="translate(436.5,259.8)" font-size="10.6" text-anchor="start" font-weight="normal" font-style="normal" fill="#000" >3um</text>
<line x1="421.7" y1="268.7" x2="432" y2="268.7" stroke="#4f7f7d" stroke-width="2.1"/>
<text transform="translate(436.5,272.3)" font-size="10.6" text-anchor="start" font-weight="normal" font-style="normal" fill="#000" >4um</text>
<line x1="421.7" y1="281.2" x2="432" y2="281.2" stroke="#80e0d8" stroke-width="2.1"/>
<text transform="translate(436.5,284.8)" font-size="10.6" text-anchor="start" font-weight="normal" font-style="normal" fill="#000" >5um</text>
<line x1="421.7" y1="293.7" x2="432" y2="293.7" stroke="#1e1e1e" stroke-width="2.1"/>
<text transform="translate(436.5,297.3)" font-size="10.6" text-anchor="start" font-weight="normal" font-style="normal" fill="#000" >6um</text>
<line x1="421.7" y1="306.2" x2="432" y2="306.2" stroke="#3a6b32" stroke-width="2.1"/>
<text transform="translate(436.5,309.8)" font-size="10.6" text-anchor="start" font-weight="normal" font-style="normal" fill="#000" >7um</text>
<line x1="421.7" y1="318.7" x2="432" y2="318.7" stroke="#b040c0" stroke-width="2.1"/>
<text transform="translate(436.5,322.3)" font-size="10.6" text-anchor="start" font-weight="normal" font-style="normal" fill="#000" >8um</text>
<line x1="421.7" y1="331.2" x2="432" y2="331.2" stroke="#90d860" stroke-width="2.1"/>
<text transform="translate(436.5,334.8)" font-size="10.6" text-anchor="start" font-weight="normal" font-style="normal" fill="#000" >9um</text>
<line x1="421.7" y1="343.7" x2="432" y2="343.7" stroke="#2828b0" stroke-width="2.1"/>
<text transform="translate(436.5,347.3)" font-size="10.6" text-anchor="start" font-weight="normal" font-style="normal" fill="#000" >10um</text>
<line x1="421.7" y1="356.2" x2="432" y2="356.2" stroke="#b02a2a" stroke-width="2.1"/>
<text transform="translate(436.5,359.8)" font-size="10.6" text-anchor="start" font-weight="normal" font-style="normal" fill="#000" >11um</text>
<path d="M172.2,242.2 C179,240 184,237.2 188,235.9 Q191.2,235 194.4,235.9 C198.4,237.2 203,240 209.6,242.2 Z" fill="#6c6c6c"/>
<ellipse cx="191.2" cy="237.6" rx="3.1" ry="1.5" fill="#a8a8a8"/>
<path d="M176.7,223.9 L183.1,221.6 L185,236.9 Z" fill="#747474"/>
<path d="M196.6,224.8 L195.6,230.8" stroke="#7a7a7a" stroke-width="0.9"/>
<path d="M194.3,230.4 L195.3,233 L196.8,230.7 Z" fill="#444"/>
<path d="M202.1,221.8 L197.3,235 M210.5,226.2 L198.6,235" stroke="#8a8a8a" stroke-width="1.0"/>
<polyline points="171.0,386.2 171.5,385.9 172.0,387.0 172.5,384.8 173.0,385.7 173.5,387.5 174.0,383.8 174.5,385.2 175.0,386.0 175.5,383.7 176.0,387.4 176.5,383.1 177.0,386.7 177.5,387.1 178.0,386.9 178.5,386.3 179.0,386.9 179.5,385.9 180.0,387.5 180.5,385.6 181.0,386.2 181.5,387.1 182.0,385.3 182.5,386.1 183.0,386.6 183.5,385.1 184.0,387.1 184.5,386.2 185.0,384.6 185.5,385.9 186.0,385.3 186.5,385.3 187.0,385.9 187.5,385.2 188.0,386.9 188.5,385.7 189.0,387.4 189.5,386.4 190.0,387.1 190.5,385.8 191.0,385.7 191.5,385.1 192.0,386.5 192.5,386.8 193.0,387.8 193.5,387.0 194.0,386.3 194.5,386.1 195.0,386.7 195.5,386.3 196.0,387.5 196.5,387.1 197.0,385.4 197.5,385.3 198.0,386.8 198.5,386.4 199.0,386.3 199.5,388.0 200.0,386.4 200.5,386.2 201.0,385.8 201.5,384.5 202.0,386.9 202.5,385.1 203.0,385.9 203.5,386.0 204.0,387.5 204.5,386.7 205.0,386.7 205.5,385.2 206.0,386.4 206.5,385.0 207.0,386.3 207.5,386.5 208.0,386.2 208.5,388.1 209.0,386.5 209.5,386.3 210.0,385.7 210.5,385.5 211.0,386.5 211.5,386.7 212.0,384.4 212.5,386.1 213.0,385.4 213.5,386.4 214.0,386.5 214.5,385.7 215.0,385.2 215.5,387.2 216.0,385.4 216.5,384.4 217.0,386.3 217.5,386.1 218.0,384.6 218.5,384.0 219.0,384.3 219.5,385.9 220.0,385.6 220.5,385.4 221.0,386.0 221.5,386.4 222.0,384.2 222.5,385.8 223.0,385.5 223.5,385.2 224.0,385.8 224.5,386.2 225.0,386.2 225.5,385.4 226.0,386.4 226.5,388.7 227.0,385.9 227.5,385.1 228.0,386.5 228.5,386.9 229.0,386.8 229.5,385.6 230.0,387.1 230.5,385.4 231.0,384.8 231.5,385.5 232.0,386.1 232.5,387.1 233.0,386.9 233.5,386.3 234.0,387.0 234.5,386.1 235.0,386.7 235.5,384.7 236.0,384.6 236.5,386.7 237.0,384.9 237.5,385.8 238.0,386.0 238.5,385.7 239.0,385.7 239.5,387.3" fill="none" stroke="#b81a1a" stroke-width="1.6" stroke-linejoin="round" />
<line x1="239.8" y1="381.5" x2="241.0" y2="499" stroke="#c03030" stroke-width="1"/>
<polyline points="254.9,499.2 255.3,493.2 255.7,487.1 256.1,481.5 256.6,476.3 257.0,471.4 257.4,466.5 257.8,462.1 258.2,457.8 258.6,453.7 259.0,450.3 259.4,447.1 259.9,444.1 260.3,441.7 260.7,438.9 261.1,436.5 261.5,434.2 261.9,431.9 262.3,430.1 262.7,428.2 263.2,426.7 263.6,425.0 264.0,423.6 264.4,422.1 264.8,420.6 265.2,419.5 265.6,418.2 266.0,417.3 266.5,416.2 266.9,415.4 267.3,414.3 267.7,413.3 268.1,412.3 268.5,411.3 268.9,410.4 269.3,409.6 269.8,408.7 270.2,408.2 270.6,408.0 271.0,407.3 271.5,406.6 272.0,406.1" fill="none" stroke="#c03030" stroke-width="1.1" stroke-linejoin="round" />
<polyline points="270.6,408.0 271.0,407.3 271.5,406.6 272.0,406.1 272.5,405.3 273.0,407.4 273.5,406.2 274.0,406.2 274.5,407.3 275.0,407.8 275.5,404.9 276.0,406.5 276.5,406.1 277.0,406.0 277.5,406.1 278.0,405.6 278.5,406.9 279.0,406.0 279.5,405.6 280.0,406.2 280.5,405.8 281.0,405.8 281.5,406.1 282.0,407.6 282.5,406.3 283.0,405.4 283.5,404.5 284.0,404.7 284.5,403.9 285.0,404.7 285.5,405.3 286.0,403.7 286.5,405.7 287.0,405.9 287.5,405.2 288.0,404.0 288.5,406.1 289.0,404.6 289.5,404.3 290.0,404.3 290.5,405.1 291.0,405.9 291.5,406.1 292.0,405.3 292.5,404.1 293.0,404.5 293.5,404.3 294.0,404.8 294.5,403.3 295.0,404.8 295.5,405.1 296.0,404.5 296.5,405.1 297.0,404.1 297.5,403.9 298.0,404.9 298.5,406.6 299.0,405.7 299.5,403.7 300.0,404.6 300.5,403.6 301.0,405.5 301.5,405.0 302.0,404.2 302.5,405.3 303.0,403.9 303.5,403.5 304.0,402.8 304.5,404.0 305.0,403.7 305.5,403.6 306.0,403.4 306.5,405.5 307.0,404.5 307.5,404.6 308.0,405.8 308.5,405.5 309.0,404.3 309.5,402.9 310.0,404.2 310.5,405.5 311.0,404.7 311.5,405.7 312.0,402.9 312.5,404.5 313.0,403.3 313.5,404.8 314.0,403.6 314.5,404.5 315.0,403.1 315.5,402.4 316.0,402.6 316.5,402.8 317.0,402.0 317.5,403.2 318.0,402.6 318.5,400.7 319.0,398.6 319.5,398.6 320.0,397.4 320.5,398.6 321.0,396.9 321.5,396.5 322.0,395.2 322.5,393.3 323.0,394.2 323.5,393.7 324.0,394.8 324.5,394.2 325.0,393.0 325.5,393.0 326.0,394.1 326.5,391.4 327.0,390.9 327.5,391.4 328.0,390.8 328.5,390.9 329.0,391.7 329.5,392.7 330.0,389.7 330.5,390.9 331.0,390.6 331.5,390.2 332.0,390.0 332.5,389.7 333.0,390.7 333.5,389.3 334.0,389.3 334.5,389.2 335.0,389.3 335.5,389.1 336.0,390.0 336.5,389.2 337.0,389.3 337.5,389.2 338.0,388.4 338.5,388.5 339.0,388.3 339.5,389.1 340.0,388.1 340.5,387.7 341.0,389.1 341.5,389.7 342.0,387.9 342.5,390.4 343.0,388.6 343.5,388.2 344.0,389.7 344.5,389.4 345.0,389.1 345.5,391.1 346.0,388.0 346.5,388.4 347.0,389.1 347.5,387.4 348.0,388.1 348.5,388.3 349.0,389.9 349.5,386.8 350.0,387.1 350.5,387.3 351.0,386.6 351.5,386.0 352.0,387.8 352.5,387.9 353.0,388.2 353.5,388.8 354.0,388.8 354.5,388.6 355.0,388.8 355.5,387.7 356.0,388.0 356.5,387.7 357.0,386.9 357.5,387.8 358.0,387.6 358.5,389.9 359.0,390.1 359.5,387.6 360.0,388.0 360.5,387.6 361.0,389.0 361.5,388.3 362.0,387.5 362.5,386.7 363.0,386.6 363.5,386.1 364.0,388.0 364.5,387.1 365.0,388.1 365.5,387.7 366.0,388.5 366.5,387.7 367.0,388.7 367.5,387.2 368.0,388.4 368.5,387.6 369.0,387.8 369.5,387.5 370.0,388.0 370.5,385.4 371.0,387.7 371.5,386.5 372.0,389.1 372.5,386.4 373.0,387.1 373.5,386.5 374.0,389.3 374.5,386.8 375.0,388.0 375.5,387.5 376.0,386.5 376.5,387.8 377.0,388.7 377.5,388.0 378.0,388.9 378.5,387.6 379.0,387.7 379.5,387.2 380.0,387.6 380.5,388.7 381.0,387.2 381.5,387.1 382.0,386.4 382.5,386.4 383.0,388.7 383.5,387.0 384.0,387.5 384.5,388.1 385.0,387.7 385.5,389.6 386.0,385.8 386.5,388.0 387.0,388.2 387.5,386.6 388.0,386.9 388.5,387.8 389.0,388.9 389.5,386.8 390.0,386.3 390.5,388.4 391.0,388.9 391.5,387.3 392.0,385.7 392.5,388.7 393.0,387.3 393.5,388.3 394.0,387.3 394.5,387.0 395.0,387.4 395.5,389.6 396.0,389.8 396.5,386.5 397.0,387.2 397.5,389.2 398.0,387.2 398.5,386.3 399.0,387.3 399.5,387.1 400.0,387.0 400.5,386.6 401.0,386.8 401.5,386.8 402.0,387.6 402.5,386.8 403.0,387.5 403.5,387.8 404.0,389.1 404.5,388.3 405.0,387.9 405.5,388.3 406.0,388.0 406.5,388.4 407.0,388.0 407.5,389.1 408.0,388.8 408.5,387.5 409.0,387.2 409.5,388.2 410.0,387.7 410.5,387.1 411.0,385.9 411.5,386.0 412.0,388.2 412.5,388.9 413.0,388.8 413.5,386.8 414.0,388.8 414.5,387.8 415.0,388.9 415.5,389.1 416.0,387.5 416.5,387.2 417.0,385.5 417.5,386.6 418.0,386.0 418.5,388.0 419.0,387.8 419.5,388.7 420.0,388.4 420.5,387.3 421.0,388.0 421.5,387.2 422.0,387.8 422.5,387.4 423.0,386.1 423.5,387.1 424.0,387.2 424.5,387.0 425.0,388.2 425.5,389.0 426.0,387.4 426.5,387.5 427.0,385.9 427.5,387.7 428.0,387.4 428.5,385.9 429.0,387.9 429.5,388.4 430.0,387.4 430.5,387.9 431.0,387.4 431.5,388.8 432.0,386.9 432.5,387.8 433.0,389.6 433.5,387.9 434.0,388.2 434.5,387.6 435.0,386.7 435.5,387.7 436.0,388.0 436.5,386.8 437.0,388.1 437.5,389.0 438.0,388.9 438.5,386.7 439.0,387.3 439.5,386.8 440.0,389.0 440.5,388.4 441.0,388.4 441.5,387.1 442.0,386.9 442.5,388.0 443.0,387.9 443.5,387.0 444.0,387.7 444.5,388.0 445.0,387.4 445.5,386.2" fill="none" stroke="#b81a1a" stroke-width="1.6" stroke-linejoin="round" />
<line x1="241.5" y1="386.9" x2="446" y2="386.9" stroke="#111" stroke-width="1.15" stroke-dasharray="2.1,1.65"/>
<text transform="translate(410.0,382.3)" font-size="10.7" text-anchor="start" font-weight="normal" font-style="italic" fill="#000" >baseline</text>
<text transform="translate(380.8,406.7) scale(1.06,0.9)" font-size="11.2" text-anchor="start" font-weight="normal" font-style="normal" fill="#000" >E2496ELE</text>
<line x1="311.9" y1="423.6" x2="298" y2="415.5" stroke="#111" stroke-width="1.9"/>
<path d="M293.5,413 L303.5,414.2 L299.2,421 Z" fill="#111"/>
<text transform="translate(394.1,430)" font-size="10.6" text-anchor="middle" font-weight="normal" font-style="normal" fill="#000" >77% of recorded cells displayed</text>
<text transform="translate(394.1,443.2)" font-size="10.5" text-anchor="middle" font-weight="normal" font-style="normal" fill="#000" >impair steady-state availability</text>
</svg></div></body></html>
